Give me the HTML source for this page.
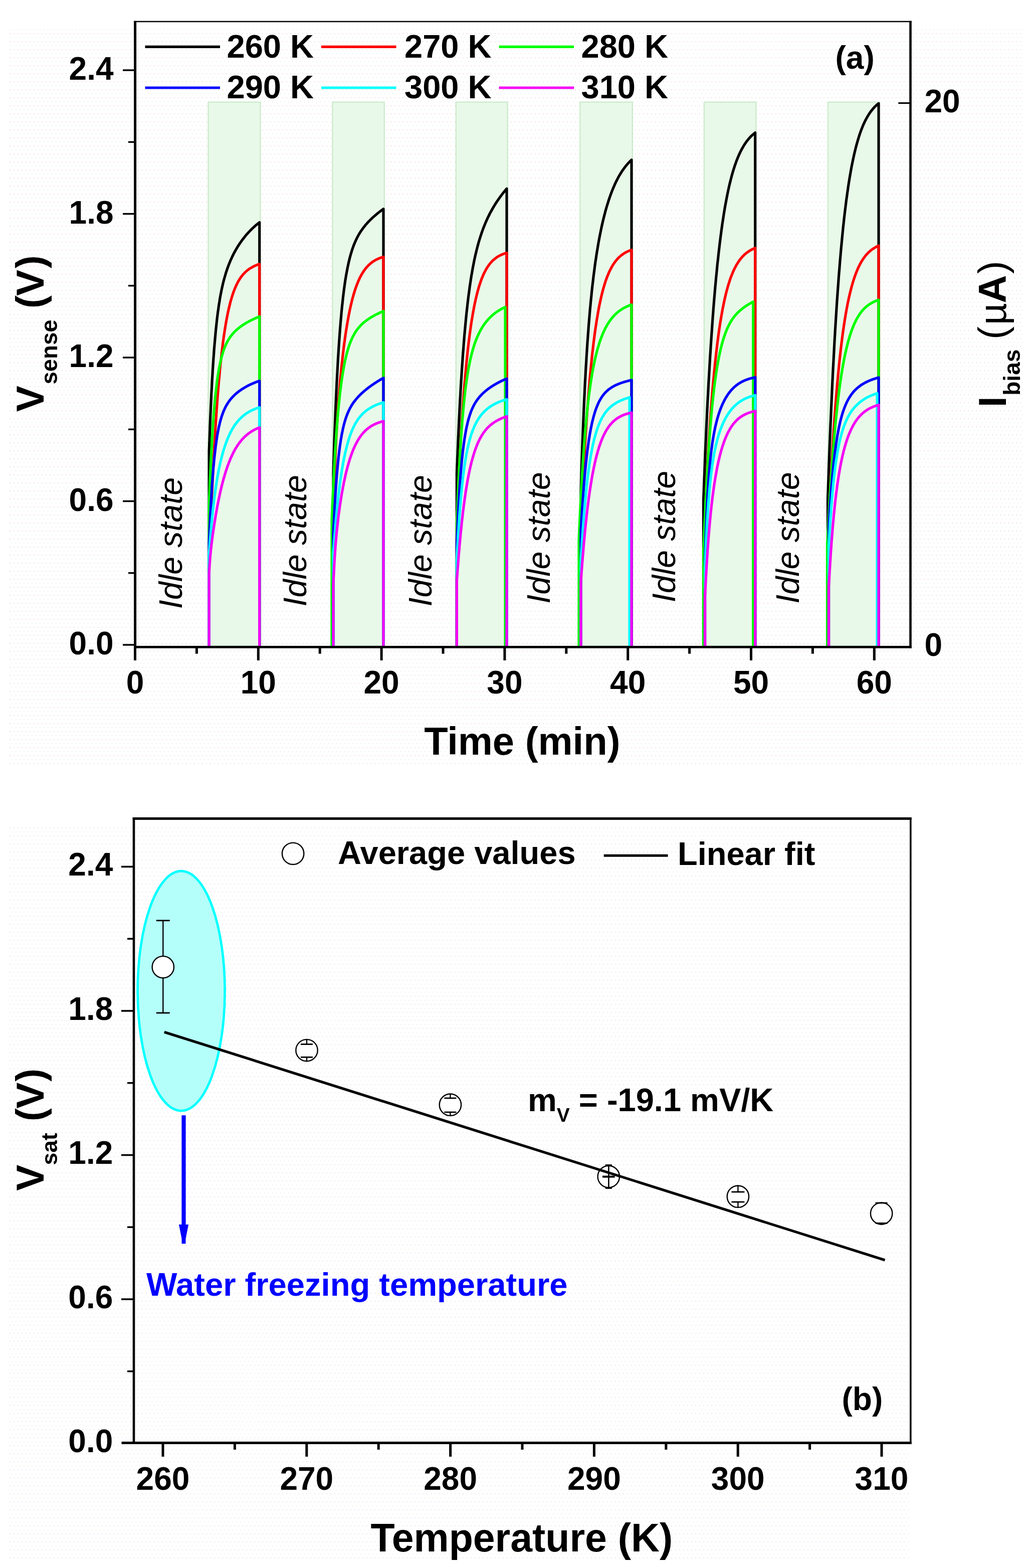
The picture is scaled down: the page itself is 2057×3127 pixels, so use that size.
<!DOCTYPE html><html><head><meta charset="utf-8"><title>Figure</title><style>html,body{margin:0;padding:0;background:#fff;}svg{display:block;}</style></head><body>
<svg width="2057" height="3127" viewBox="0 0 2057 3127" font-family="'Liberation Sans', Arial, sans-serif">
<defs><pattern id="dots" x="0" y="0" width="8" height="16" patternUnits="userSpaceOnUse"><rect x="3" y="2" width="2" height="2" fill="#f1e3e3"/><rect x="7" y="10" width="2" height="2" fill="#dde9e9"/></pattern><pattern id="dots2" x="0" y="0" width="8" height="16" patternUnits="userSpaceOnUse"><rect x="3" y="2" width="2" height="2" fill="#f1e6f1"/><rect x="7" y="10" width="2" height="2" fill="#e6eedc"/></pattern></defs>
<rect width="2057" height="3127" fill="#fff"/>
<rect x="18" y="58" width="2025" height="1469" fill="url(#dots)"/>
<rect x="18" y="1646" width="1795" height="1467" fill="url(#dots2)"/>
<rect x="415.50" y="203.70" width="103.90" height="1084.30" fill="#e9f9e9" stroke="#cfeccf" stroke-width="2.6"/>
<rect x="663.40" y="203.70" width="103.30" height="1084.30" fill="#e9f9e9" stroke="#cfeccf" stroke-width="2.6"/>
<rect x="909.80" y="203.70" width="102.90" height="1084.30" fill="#e9f9e9" stroke="#cfeccf" stroke-width="2.6"/>
<rect x="1157.40" y="203.70" width="104.30" height="1084.30" fill="#e9f9e9" stroke="#cfeccf" stroke-width="2.6"/>
<rect x="1404.90" y="203.70" width="103.50" height="1084.30" fill="#e9f9e9" stroke="#cfeccf" stroke-width="2.6"/>
<rect x="1651.90" y="203.70" width="102.80" height="1084.30" fill="#e9f9e9" stroke="#cfeccf" stroke-width="2.6"/>
<g id="curves" fill="none" stroke-linejoin="round"><path d="M417.1,1290.0 417.1,901.6 417.1,900.3 417.2,898.6 417.2,897.4 417.3,896.0 417.3,894.3 417.4,892.5 417.5,890.4 417.6,888.0 417.6,885.5 417.7,882.7 417.9,879.7 418.0,876.5 418.1,873.1 418.2,869.5 418.4,865.6 418.5,861.6 418.7,857.4 418.8,852.9 419.0,848.4 419.2,843.6 419.4,838.7 419.6,833.6 419.8,828.4 420.1,823.0 420.3,817.5 420.5,811.9 420.8,806.2 421.1,800.4 421.4,794.5 421.6,788.6 421.9,782.6 422.3,776.5 422.6,770.4 422.9,764.2 423.2,758.0 423.6,751.9 424.0,745.7 424.3,739.5 424.7,733.3 425.1,727.1 425.5,721.0 425.9,714.9 426.4,708.9 426.8,702.9 427.2,696.9 427.7,691.0 428.2,685.2 428.7,679.5 429.2,673.8 429.7,668.3 430.2,662.8 430.7,657.4 431.3,652.1 431.8,646.9 432.4,641.8 432.9,636.8 433.5,631.9 434.1,627.1 434.7,622.4 435.4,617.8 436.0,613.3 436.6,608.9 437.3,604.6 438.0,600.5 438.6,596.4 439.3,592.4 440.0,588.5 440.8,584.7 441.5,581.0 442.2,577.4 443.0,573.8 443.8,570.4 444.5,567.0 445.3,563.7 446.1,560.5 446.9,557.4 447.8,554.4 448.6,551.4 449.5,548.5 450.3,545.6 451.2,542.8 452.1,540.1 453.0,537.4 453.9,534.8 454.8,532.2 455.8,529.7 456.7,527.2 457.7,524.8 458.7,522.4 459.6,520.1 460.6,517.8 461.7,515.6 462.7,513.3 463.7,511.2 464.8,509.0 465.8,506.9 466.9,504.8 468.0,502.8 469.1,500.7 470.2,498.7 471.4,496.8 472.5,494.8 473.7,492.9 474.8,491.0 476.0,489.2 477.2,487.3 478.4,485.5 479.7,483.7 480.9,482.0 482.1,480.2 483.4,478.5 484.7,476.8 486.0,475.1 487.3,473.5 488.6,471.8 489.9,470.2 491.2,468.6 492.6,467.1 494.0,465.5 495.4,464.0 496.7,462.5 498.2,461.0 499.6,459.5 501.0,458.1 502.5,456.6 503.9,455.2 505.4,453.8 506.9,452.5 508.4,451.1 509.9,449.8 511.4,448.5 513.0,447.2 514.5,446.0 516.1,444.7 517.7,443.5 517.7,1290.0 M665.0,1290.0 665.0,943.4 665.0,942.0 665.1,941.2 665.1,940.1 665.1,938.8 665.2,937.2 665.2,935.4 665.3,933.4 665.4,931.1 665.5,928.5 665.5,925.7 665.6,922.6 665.7,919.3 665.9,915.8 666.0,912.0 666.1,907.9 666.3,903.6 666.4,899.1 666.6,894.4 666.7,889.4 666.9,884.2 667.1,878.9 667.3,873.3 667.5,867.5 667.7,861.6 667.9,855.5 668.2,849.2 668.4,842.7 668.7,836.1 669.0,829.4 669.2,822.6 669.5,815.6 669.8,808.6 670.1,801.4 670.4,794.2 670.8,786.9 671.1,779.6 671.5,772.2 671.8,764.7 672.2,757.3 672.6,749.8 673.0,742.3 673.4,734.8 673.8,727.4 674.2,719.9 674.6,712.5 675.1,705.2 675.5,697.8 676.0,690.6 676.5,683.4 677.0,676.3 677.5,669.2 678.0,662.3 678.5,655.4 679.1,648.7 679.6,642.0 680.2,635.5 680.8,629.1 681.3,622.8 681.9,616.6 682.5,610.5 683.2,604.6 683.8,598.8 684.4,593.1 685.1,587.6 685.7,582.2 686.4,576.9 687.1,571.8 687.8,566.8 688.5,562.0 689.2,557.2 690.0,552.6 690.7,548.2 691.5,543.9 692.3,539.7 693.1,535.6 693.9,531.6 694.7,527.8 695.5,524.1 696.3,520.5 697.2,517.0 698.0,513.7 698.9,510.4 699.8,507.2 700.7,504.2 701.6,501.2 702.5,498.4 703.4,495.6 704.4,492.9 705.3,490.3 706.3,487.8 707.3,485.4 708.3,483.0 709.3,480.7 710.3,478.5 711.4,476.3 712.4,474.2 713.5,472.2 714.5,470.2 715.6,468.3 716.7,466.4 717.8,464.6 718.9,462.8 720.1,461.1 721.2,459.4 722.4,457.7 723.6,456.1 724.8,454.5 726.0,452.9 727.2,451.4 728.4,449.9 729.6,448.4 730.9,446.9 732.2,445.5 733.5,444.1 734.7,442.7 736.1,441.3 737.4,440.0 738.7,438.6 740.1,437.3 741.4,436.0 742.8,434.7 744.2,433.4 745.6,432.2 747.0,430.9 748.4,429.7 749.9,428.5 751.3,427.2 752.8,426.0 754.3,424.8 755.7,423.7 757.3,422.5 758.8,421.3 760.3,420.1 761.9,419.0 763.4,417.8 765.0,416.7 765.0,1290.0 M911.4,1290.0 911.4,943.5 911.4,942.4 911.5,940.8 911.5,939.8 911.6,938.5 911.6,937.1 911.7,935.4 911.8,933.6 911.9,931.5 911.9,929.2 912.0,926.8 912.1,924.1 912.3,921.2 912.4,918.1 912.5,914.8 912.6,911.3 912.8,907.6 913.0,903.7 913.1,899.7 913.3,895.4 913.5,891.0 913.7,886.3 913.9,881.5 914.1,876.6 914.3,871.4 914.6,866.1 914.8,860.7 915.1,855.1 915.3,849.4 915.6,843.6 915.9,837.6 916.2,831.5 916.5,825.3 916.8,819.0 917.1,812.6 917.5,806.1 917.8,799.6 918.2,793.0 918.6,786.3 918.9,779.5 919.3,772.7 919.7,765.9 920.1,759.0 920.6,752.1 921.0,745.2 921.4,738.3 921.9,731.4 922.4,724.4 922.9,717.5 923.3,710.6 923.8,703.8 924.4,696.9 924.9,690.1 925.4,683.3 926.0,676.6 926.5,669.9 927.1,663.3 927.7,656.8 928.3,650.3 928.9,643.8 929.5,637.5 930.1,631.2 930.7,625.0 931.4,618.9 932.1,612.9 932.7,606.9 933.4,601.1 934.1,595.3 934.8,589.6 935.6,584.1 936.3,578.6 937.0,573.2 937.8,567.9 938.6,562.7 939.3,557.6 940.1,552.6 940.9,547.7 941.8,542.9 942.6,538.2 943.4,533.6 944.3,529.1 945.2,524.6 946.0,520.3 946.9,516.0 947.8,511.9 948.7,507.8 949.7,503.8 950.6,499.9 951.6,496.1 952.5,492.4 953.5,488.7 954.5,485.1 955.5,481.6 956.5,478.2 957.6,474.8 958.6,471.5 959.7,468.3 960.7,465.2 961.8,462.1 962.9,459.0 964.0,456.0 965.1,453.1 966.3,450.2 967.4,447.4 968.6,444.6 969.7,441.9 970.9,439.3 972.1,436.6 973.3,434.0 974.6,431.5 975.8,429.0 977.0,426.5 978.3,424.1 979.6,421.7 980.9,419.4 982.2,417.1 983.5,414.8 984.8,412.5 986.2,410.3 987.5,408.1 988.9,405.9 990.3,403.8 991.6,401.7 993.1,399.6 994.5,397.5 995.9,395.5 997.4,393.4 998.8,391.4 1000.3,389.5 1001.8,387.5 1003.3,385.6 1004.8,383.7 1006.3,381.8 1007.9,379.9 1009.4,378.0 1011.0,376.2 1011.0,1290.0 M1159.0,1290.0 1159.0,978.5 1159.0,977.0 1159.1,976.2 1159.1,975.0 1159.1,973.6 1159.2,972.0 1159.2,970.1 1159.3,968.0 1159.4,965.5 1159.5,962.9 1159.6,959.9 1159.6,956.7 1159.8,953.3 1159.9,949.5 1160.0,945.6 1160.1,941.3 1160.3,936.9 1160.4,932.1 1160.6,927.2 1160.7,922.0 1160.9,916.6 1161.1,911.0 1161.3,905.2 1161.5,899.2 1161.7,893.0 1162.0,886.6 1162.2,880.0 1162.5,873.3 1162.7,866.5 1163.0,859.5 1163.3,852.3 1163.6,845.1 1163.9,837.7 1164.2,830.2 1164.5,822.7 1164.8,815.0 1165.2,807.3 1165.5,799.6 1165.9,791.8 1166.3,783.9 1166.6,776.0 1167.0,768.1 1167.4,760.2 1167.9,752.2 1168.3,744.3 1168.7,736.4 1169.2,728.5 1169.7,720.6 1170.1,712.8 1170.6,705.0 1171.1,697.2 1171.6,689.5 1172.1,681.8 1172.7,674.2 1173.2,666.7 1173.8,659.2 1174.3,651.8 1174.9,644.4 1175.5,637.2 1176.1,630.0 1176.7,622.9 1177.3,615.9 1178.0,609.0 1178.6,602.1 1179.3,595.3 1180.0,588.7 1180.6,582.1 1181.3,575.6 1182.0,569.2 1182.8,562.9 1183.5,556.7 1184.2,550.5 1185.0,544.5 1185.8,538.6 1186.5,532.7 1187.3,526.9 1188.1,521.2 1189.0,515.6 1189.8,510.1 1190.6,504.7 1191.5,499.4 1192.4,494.1 1193.2,489.0 1194.1,483.9 1195.0,478.9 1195.9,474.0 1196.9,469.1 1197.8,464.4 1198.8,459.7 1199.7,455.1 1200.7,450.6 1201.7,446.2 1202.7,441.8 1203.7,437.5 1204.8,433.3 1205.8,429.2 1206.9,425.2 1207.9,421.2 1209.0,417.3 1210.1,413.4 1211.2,409.7 1212.4,406.0 1213.5,402.4 1214.6,398.9 1215.8,395.4 1217.0,392.0 1218.2,388.7 1219.4,385.4 1220.6,382.2 1221.8,379.1 1223.0,376.1 1224.3,373.1 1225.6,370.2 1226.8,367.3 1228.1,364.6 1229.4,361.8 1230.8,359.2 1232.1,356.6 1233.4,354.1 1234.8,351.6 1236.2,349.2 1237.6,346.9 1239.0,344.6 1240.4,342.4 1241.8,340.3 1243.2,338.2 1244.7,336.2 1246.2,334.2 1247.7,332.3 1249.1,330.4 1250.7,328.6 1252.2,326.8 1253.7,325.1 1255.3,323.5 1256.8,321.9 1258.4,320.3 1260.0,318.8 1260.0,1290.0 M1403.5,1290.0 1403.5,996.6 1403.5,995.4 1403.6,993.7 1403.6,992.6 1403.7,991.2 1403.8,989.6 1403.8,987.8 1403.9,985.8 1404.0,983.5 1404.1,981.0 1404.2,978.3 1404.3,975.4 1404.4,972.2 1404.5,968.8 1404.6,965.1 1404.8,961.3 1404.9,957.2 1405.1,952.9 1405.3,948.4 1405.5,943.7 1405.7,938.7 1405.9,933.5 1406.1,928.2 1406.3,922.6 1406.5,916.9 1406.8,910.9 1407.0,904.8 1407.3,898.4 1407.6,892.0 1407.9,885.3 1408.2,878.5 1408.5,871.5 1408.8,864.4 1409.1,857.1 1409.5,849.7 1409.8,842.1 1410.2,834.5 1410.5,826.7 1410.9,818.8 1411.3,810.8 1411.7,802.7 1412.1,794.5 1412.6,786.2 1413.0,777.9 1413.4,769.5 1413.9,761.0 1414.4,752.5 1414.9,743.9 1415.4,735.3 1415.9,726.6 1416.4,718.0 1416.9,709.3 1417.5,700.5 1418.0,691.8 1418.6,683.1 1419.2,674.4 1419.8,665.7 1420.4,657.0 1421.0,648.3 1421.6,639.7 1422.2,631.0 1422.9,622.5 1423.5,613.9 1424.2,605.5 1424.9,597.0 1425.6,588.7 1426.3,580.4 1427.0,572.1 1427.8,564.0 1428.5,555.9 1429.3,547.9 1430.1,539.9 1430.8,532.1 1431.6,524.3 1432.5,516.7 1433.3,509.1 1434.1,501.7 1435.0,494.3 1435.8,487.1 1436.7,480.0 1437.6,472.9 1438.5,466.0 1439.4,459.2 1440.3,452.6 1441.2,446.0 1442.2,439.6 1443.2,433.2 1444.1,427.0 1445.1,421.0 1446.1,415.0 1447.1,409.2 1448.2,403.5 1449.2,398.0 1450.3,392.5 1451.3,387.2 1452.4,382.0 1453.5,377.0 1454.6,372.0 1455.7,367.2 1456.9,362.5 1458.0,358.0 1459.2,353.5 1460.3,349.2 1461.5,345.0 1462.7,340.9 1463.9,337.0 1465.2,333.1 1466.4,329.4 1467.7,325.8 1468.9,322.3 1470.2,318.9 1471.5,315.7 1472.8,312.5 1474.1,309.4 1475.5,306.5 1476.8,303.6 1478.2,300.8 1479.6,298.2 1481.0,295.6 1482.4,293.2 1483.8,290.8 1485.2,288.5 1486.7,286.3 1488.1,284.2 1489.6,282.1 1491.1,280.2 1492.6,278.3 1494.1,276.5 1495.6,274.8 1497.2,273.1 1498.7,271.5 1500.3,270.0 1501.9,268.6 1503.5,267.2 1505.1,265.9 1506.7,264.6 1506.7,1290.0 M1651.5,1290.0 1651.5,993.7 1651.5,992.5 1651.6,990.7 1651.6,989.5 1651.7,988.1 1651.7,986.5 1651.8,984.6 1651.9,982.4 1652.0,980.1 1652.1,977.5 1652.2,974.6 1652.3,971.6 1652.4,968.2 1652.5,964.7 1652.6,960.8 1652.8,956.8 1652.9,952.5 1653.1,948.0 1653.3,943.2 1653.4,938.2 1653.6,933.0 1653.8,927.6 1654.0,921.9 1654.3,916.0 1654.5,909.9 1654.7,903.6 1655.0,897.1 1655.2,890.4 1655.5,883.5 1655.8,876.4 1656.1,869.1 1656.4,861.7 1656.7,854.1 1657.0,846.3 1657.4,838.4 1657.7,830.3 1658.1,822.1 1658.4,813.7 1658.8,805.2 1659.2,796.6 1659.6,787.9 1660.0,779.1 1660.4,770.2 1660.8,761.1 1661.3,752.0 1661.7,742.9 1662.2,733.6 1662.7,724.3 1663.2,715.0 1663.7,705.6 1664.2,696.1 1664.7,686.6 1665.2,677.1 1665.8,667.6 1666.3,658.1 1666.9,648.6 1667.5,639.1 1668.1,629.6 1668.7,620.1 1669.3,610.6 1669.9,601.2 1670.6,591.8 1671.2,582.5 1671.9,573.2 1672.6,564.0 1673.2,554.8 1673.9,545.7 1674.7,536.7 1675.4,527.7 1676.1,518.9 1676.9,510.1 1677.6,501.4 1678.4,492.8 1679.2,484.4 1680.0,476.0 1680.8,467.7 1681.6,459.6 1682.4,451.5 1683.3,443.6 1684.1,435.8 1685.0,428.2 1685.9,420.6 1686.8,413.2 1687.7,406.0 1688.6,398.8 1689.6,391.9 1690.5,385.0 1691.5,378.3 1692.4,371.7 1693.4,365.3 1694.4,359.0 1695.4,352.8 1696.5,346.8 1697.5,340.9 1698.5,335.2 1699.6,329.6 1700.7,324.2 1701.8,318.9 1702.9,313.7 1704.0,308.7 1705.1,303.9 1706.3,299.1 1707.4,294.5 1708.6,290.0 1709.8,285.7 1711.0,281.5 1712.2,277.4 1713.4,273.5 1714.6,269.7 1715.9,266.0 1717.1,262.4 1718.4,259.0 1719.7,255.6 1721.0,252.4 1722.3,249.3 1723.6,246.3 1725.0,243.5 1726.3,240.7 1727.7,238.0 1729.1,235.5 1730.5,233.0 1731.9,230.6 1733.3,228.4 1734.7,226.2 1736.2,224.1 1737.6,222.1 1739.1,220.1 1740.6,218.3 1742.1,216.5 1743.6,214.8 1745.1,213.2 1746.7,211.7 1748.2,210.2 1749.8,208.8 1751.4,207.5 1753.0,206.2 1753.0,1290.0" stroke="#000000" stroke-width="5.2"/>
<path d="M417.1,1290.0 417.1,1137.4 417.1,1136.2 417.2,1134.4 417.2,1133.2 417.3,1131.8 417.3,1130.1 417.4,1128.2 417.5,1126.1 417.6,1123.8 417.6,1121.2 417.7,1118.4 417.9,1115.3 418.0,1112.0 418.1,1108.4 418.2,1104.7 418.4,1100.7 418.5,1096.4 418.7,1092.0 418.8,1087.3 419.0,1082.4 419.2,1077.2 419.4,1071.9 419.6,1066.4 419.8,1060.6 420.1,1054.7 420.3,1048.5 420.5,1042.2 420.8,1035.7 421.1,1029.1 421.4,1022.3 421.6,1015.3 421.9,1008.2 422.3,1000.9 422.6,993.5 422.9,986.0 423.2,978.4 423.6,970.6 424.0,962.8 424.3,954.9 424.7,946.9 425.1,938.8 425.5,930.7 425.9,922.6 426.4,914.3 426.8,906.1 427.2,897.8 427.7,889.5 428.2,881.2 428.7,872.9 429.2,864.6 429.7,856.3 430.2,848.1 430.7,839.9 431.3,831.7 431.8,823.6 432.4,815.5 432.9,807.5 433.5,799.5 434.1,791.6 434.7,783.8 435.4,776.1 436.0,768.5 436.6,761.0 437.3,753.6 438.0,746.3 438.6,739.1 439.3,732.0 440.0,725.1 440.8,718.3 441.5,711.6 442.2,705.0 443.0,698.5 443.8,692.2 444.5,686.1 445.3,680.0 446.1,674.1 446.9,668.4 447.8,662.8 448.6,657.3 449.5,652.0 450.3,646.8 451.2,641.8 452.1,636.9 453.0,632.1 453.9,627.5 454.8,623.0 455.8,618.7 456.7,614.5 457.7,610.5 458.7,606.5 459.6,602.7 460.6,599.1 461.7,595.5 462.7,592.1 463.7,588.9 464.8,585.7 465.8,582.6 466.9,579.7 468.0,576.9 469.1,574.2 470.2,571.6 471.4,569.1 472.5,566.7 473.7,564.4 474.8,562.2 476.0,560.1 477.2,558.1 478.4,556.2 479.7,554.3 480.9,552.6 482.1,550.9 483.4,549.3 484.7,547.7 486.0,546.3 487.3,544.9 488.6,543.5 489.9,542.3 491.2,541.1 492.6,539.9 494.0,538.8 495.4,537.7 496.7,536.7 498.2,535.8 499.6,534.9 501.0,534.0 502.5,533.2 503.9,532.4 505.4,531.6 506.9,530.9 508.4,530.2 509.9,529.5 511.4,528.9 513.0,528.3 514.5,527.7 516.1,527.1 517.7,526.6 517.7,1290.0 M665.0,1290.0 665.0,1051.8 665.0,1050.7 665.0,1049.8 665.1,1048.6 665.1,1047.0 665.1,1045.1 665.2,1042.9 665.2,1040.3 665.3,1037.5 665.4,1034.2 665.5,1030.7 665.5,1026.8 665.6,1022.7 665.7,1018.3 665.9,1013.6 666.0,1008.6 666.1,1003.4 666.3,998.0 666.4,992.4 666.6,986.6 666.7,980.6 666.9,974.5 667.1,968.2 667.3,961.8 667.5,955.4 667.7,948.8 667.9,942.2 668.2,935.6 668.4,928.8 668.7,922.1 669.0,915.4 669.2,908.6 669.5,901.9 669.8,895.1 670.1,888.4 670.4,881.7 670.8,875.1 671.1,868.4 671.5,861.8 671.8,855.3 672.2,848.7 672.6,842.3 673.0,835.8 673.4,829.4 673.8,823.1 674.2,816.7 674.6,810.5 675.1,804.2 675.5,798.0 676.0,791.9 676.5,785.7 677.0,779.7 677.5,773.6 678.0,767.6 678.5,761.7 679.1,755.7 679.6,749.9 680.2,744.0 680.8,738.2 681.3,732.5 681.9,726.8 682.5,721.1 683.2,715.5 683.8,710.0 684.4,704.5 685.1,699.1 685.7,693.7 686.4,688.4 687.1,683.2 687.8,678.0 688.5,672.9 689.2,667.8 690.0,662.9 690.7,658.0 691.5,653.2 692.3,648.5 693.1,643.8 693.9,639.3 694.7,634.8 695.5,630.4 696.3,626.1 697.2,621.9 698.0,617.8 698.9,613.7 699.8,609.8 700.7,605.9 701.6,602.2 702.5,598.5 703.4,594.9 704.4,591.5 705.3,588.1 706.3,584.8 707.3,581.6 708.3,578.4 709.3,575.4 710.3,572.5 711.4,569.6 712.4,566.9 713.5,564.2 714.5,561.6 715.6,559.1 716.7,556.7 717.8,554.4 718.9,552.1 720.1,550.0 721.2,547.9 722.4,545.8 723.6,543.9 724.8,542.0 726.0,540.2 727.2,538.5 728.4,536.9 729.6,535.3 730.9,533.7 732.2,532.3 733.5,530.9 734.7,529.5 736.1,528.3 737.4,527.0 738.7,525.9 740.1,524.8 741.4,523.7 742.8,522.7 744.2,521.7 745.6,520.8 747.0,519.9 748.4,519.1 749.9,518.3 751.3,517.5 752.8,516.8 754.3,516.1 755.7,515.5 757.3,514.9 758.8,514.3 760.3,513.8 761.9,513.2 763.4,512.8 765.0,512.3 765.0,1290.0 M911.4,1290.0 911.4,1044.9 911.4,1043.8 911.5,1042.3 911.5,1041.3 911.6,1040.0 911.6,1038.6 911.7,1037.0 911.8,1035.2 911.9,1033.2 911.9,1030.9 912.0,1028.5 912.1,1025.9 912.3,1023.0 912.4,1020.0 912.5,1016.8 912.6,1013.3 912.8,1009.7 913.0,1005.9 913.1,1001.9 913.3,997.7 913.5,993.3 913.7,988.8 913.9,984.0 914.1,979.1 914.3,974.1 914.6,968.9 914.8,963.5 915.1,958.0 915.3,952.3 915.6,946.5 915.9,940.6 916.2,934.5 916.5,928.4 916.8,922.1 917.1,915.7 917.5,909.3 917.8,902.7 918.2,896.0 918.6,889.3 918.9,882.5 919.3,875.7 919.7,868.8 920.1,861.8 920.6,854.9 921.0,847.8 921.4,840.8 921.9,833.7 922.4,826.6 922.9,819.6 923.3,812.5 923.8,805.4 924.4,798.3 924.9,791.3 925.4,784.2 926.0,777.2 926.5,770.3 927.1,763.4 927.7,756.5 928.3,749.7 928.9,742.9 929.5,736.2 930.1,729.6 930.7,723.0 931.4,716.5 932.1,710.1 932.7,703.8 933.4,697.5 934.1,691.4 934.8,685.3 935.6,679.3 936.3,673.5 937.0,667.7 937.8,662.0 938.6,656.5 939.3,651.0 940.1,645.7 940.9,640.4 941.8,635.3 942.6,630.3 943.4,625.4 944.3,620.6 945.2,616.0 946.0,611.4 946.9,607.0 947.8,602.7 948.7,598.5 949.7,594.4 950.6,590.4 951.6,586.5 952.5,582.8 953.5,579.2 954.5,575.7 955.5,572.3 956.5,569.0 957.6,565.8 958.6,562.7 959.7,559.7 960.7,556.8 961.8,554.1 962.9,551.4 964.0,548.8 965.1,546.3 966.3,544.0 967.4,541.7 968.6,539.5 969.7,537.4 970.9,535.3 972.1,533.4 973.3,531.5 974.6,529.8 975.8,528.1 977.0,526.4 978.3,524.9 979.6,523.4 980.9,522.0 982.2,520.6 983.5,519.3 984.8,518.1 986.2,517.0 987.5,515.8 988.9,514.8 990.3,513.8 991.6,512.8 993.1,511.9 994.5,511.1 995.9,510.3 997.4,509.5 998.8,508.8 1000.3,508.1 1001.8,507.5 1003.3,506.9 1004.8,506.3 1006.3,505.7 1007.9,505.2 1009.4,504.8 1011.0,504.3 1011.0,1290.0 M1159.0,1290.0 1159.0,1051.1 1159.0,1050.1 1159.1,1048.7 1159.1,1047.8 1159.2,1046.6 1159.2,1045.3 1159.3,1043.8 1159.4,1042.2 1159.5,1040.3 1159.6,1038.3 1159.6,1036.0 1159.8,1033.6 1159.9,1030.9 1160.0,1028.1 1160.1,1025.1 1160.3,1021.9 1160.4,1018.6 1160.6,1015.0 1160.7,1011.2 1160.9,1007.3 1161.1,1003.2 1161.3,998.9 1161.5,994.5 1161.7,989.8 1162.0,985.0 1162.2,980.1 1162.5,975.0 1162.7,969.7 1163.0,964.3 1163.3,958.8 1163.6,953.1 1163.9,947.3 1164.2,941.3 1164.5,935.3 1164.8,929.1 1165.2,922.8 1165.5,916.4 1165.9,909.9 1166.3,903.3 1166.6,896.7 1167.0,890.0 1167.4,883.2 1167.9,876.3 1168.3,869.4 1168.7,862.4 1169.2,855.4 1169.7,848.3 1170.1,841.2 1170.6,834.1 1171.1,827.0 1171.6,819.9 1172.1,812.7 1172.7,805.6 1173.2,798.5 1173.8,791.4 1174.3,784.3 1174.9,777.2 1175.5,770.2 1176.1,763.2 1176.7,756.2 1177.3,749.3 1178.0,742.5 1178.6,735.7 1179.3,729.0 1180.0,722.3 1180.6,715.7 1181.3,709.2 1182.0,702.8 1182.8,696.4 1183.5,690.2 1184.2,684.0 1185.0,677.9 1185.8,672.0 1186.5,666.1 1187.3,660.3 1188.1,654.7 1189.0,649.1 1189.8,643.6 1190.6,638.3 1191.5,633.1 1192.4,627.9 1193.2,622.9 1194.1,618.1 1195.0,613.3 1195.9,608.6 1196.9,604.1 1197.8,599.7 1198.8,595.3 1199.7,591.2 1200.7,587.1 1201.7,583.1 1202.7,579.3 1203.7,575.5 1204.8,571.9 1205.8,568.4 1206.9,565.0 1207.9,561.7 1209.0,558.5 1210.1,555.5 1211.2,552.5 1212.4,549.6 1213.5,546.9 1214.6,544.2 1215.8,541.6 1217.0,539.2 1218.2,536.8 1219.4,534.5 1220.6,532.3 1221.8,530.2 1223.0,528.2 1224.3,526.2 1225.6,524.4 1226.8,522.6 1228.1,520.9 1229.4,519.3 1230.8,517.7 1232.1,516.2 1233.4,514.8 1234.8,513.4 1236.2,512.1 1237.6,510.9 1239.0,509.7 1240.4,508.6 1241.8,507.6 1243.2,506.6 1244.7,505.6 1246.2,504.7 1247.7,503.8 1249.1,503.0 1250.7,502.2 1252.2,501.5 1253.7,500.8 1255.3,500.2 1256.8,499.5 1258.4,499.0 1260.0,498.4 1260.0,1290.0 M1406.5,1290.0 1406.5,1050.1 1406.5,1049.1 1406.5,1048.3 1406.6,1047.2 1406.6,1045.8 1406.6,1044.1 1406.7,1042.1 1406.7,1039.9 1406.8,1037.4 1406.9,1034.6 1407.0,1031.7 1407.0,1028.5 1407.1,1025.1 1407.2,1021.5 1407.4,1017.7 1407.5,1013.8 1407.6,1009.8 1407.8,1005.6 1407.9,1001.4 1408.1,997.0 1408.2,992.6 1408.4,988.1 1408.6,983.5 1408.8,978.8 1409.0,974.0 1409.2,969.2 1409.5,964.3 1409.7,959.3 1409.9,954.3 1410.2,949.1 1410.5,943.9 1410.7,938.6 1411.0,933.3 1411.3,927.8 1411.6,922.2 1411.9,916.6 1412.3,910.9 1412.6,905.1 1413.0,899.2 1413.3,893.2 1413.7,887.2 1414.1,881.1 1414.5,874.9 1414.9,868.6 1415.3,862.3 1415.7,855.9 1416.2,849.5 1416.6,843.1 1417.1,836.6 1417.5,830.0 1418.0,823.4 1418.5,816.9 1419.0,810.2 1419.5,803.6 1420.1,797.0 1420.6,790.4 1421.1,783.7 1421.7,777.1 1422.3,770.5 1422.9,763.9 1423.5,757.4 1424.1,750.9 1424.7,744.4 1425.3,737.9 1426.0,731.5 1426.6,725.1 1427.3,718.8 1428.0,712.6 1428.7,706.4 1429.4,700.3 1430.1,694.2 1430.8,688.3 1431.5,682.4 1432.3,676.5 1433.0,670.8 1433.8,665.1 1434.6,659.6 1435.4,654.1 1436.2,648.7 1437.0,643.4 1437.9,638.2 1438.7,633.1 1439.6,628.1 1440.5,623.2 1441.3,618.4 1442.2,613.7 1443.2,609.1 1444.1,604.6 1445.0,600.2 1446.0,595.9 1446.9,591.8 1447.9,587.7 1448.9,583.7 1449.9,579.9 1450.9,576.1 1451.9,572.5 1452.9,568.9 1454.0,565.5 1455.1,562.1 1456.1,558.9 1457.2,555.7 1458.3,552.7 1459.4,549.7 1460.6,546.9 1461.7,544.1 1462.8,541.4 1464.0,538.9 1465.2,536.4 1466.4,534.0 1467.6,531.7 1468.8,529.5 1470.0,527.3 1471.3,525.3 1472.5,523.3 1473.8,521.4 1475.1,519.5 1476.4,517.8 1477.7,516.1 1479.0,514.5 1480.4,513.0 1481.7,511.5 1483.1,510.1 1484.4,508.7 1485.8,507.4 1487.2,506.2 1488.6,505.0 1490.1,503.9 1491.5,502.8 1493.0,501.8 1494.4,500.8 1495.9,499.9 1497.4,499.0 1498.9,498.2 1500.5,497.4 1502.0,496.6 1503.6,495.9 1505.1,495.2 1506.7,494.6 1506.7,1290.0 M1653.5,1290.0 1653.5,1039.3 1653.5,1038.4 1653.6,1037.1 1653.6,1036.2 1653.7,1035.2 1653.7,1034.0 1653.8,1032.6 1653.9,1031.1 1654.0,1029.3 1654.0,1027.4 1654.1,1025.4 1654.2,1023.1 1654.4,1020.7 1654.5,1018.1 1654.6,1015.3 1654.7,1012.4 1654.9,1009.3 1655.1,1006.0 1655.2,1002.5 1655.4,998.8 1655.6,995.0 1655.8,991.1 1656.0,986.9 1656.2,982.6 1656.4,978.2 1656.7,973.6 1656.9,968.8 1657.2,963.9 1657.4,958.9 1657.7,953.7 1658.0,948.4 1658.3,942.9 1658.6,937.4 1658.9,931.7 1659.2,925.9 1659.6,920.0 1659.9,914.0 1660.3,907.9 1660.7,901.7 1661.0,895.4 1661.4,889.0 1661.8,882.6 1662.2,876.1 1662.7,869.5 1663.1,862.9 1663.5,856.2 1664.0,849.5 1664.5,842.7 1664.9,835.9 1665.4,829.1 1665.9,822.3 1666.4,815.4 1667.0,808.5 1667.5,801.7 1668.0,794.8 1668.6,787.9 1669.2,781.1 1669.8,774.3 1670.3,767.4 1670.9,760.7 1671.6,753.9 1672.2,747.2 1672.8,740.5 1673.5,733.9 1674.1,727.4 1674.8,720.9 1675.5,714.4 1676.2,708.0 1676.9,701.7 1677.6,695.5 1678.4,689.3 1679.1,683.2 1679.9,677.2 1680.6,671.3 1681.4,665.4 1682.2,659.7 1683.0,654.1 1683.8,648.5 1684.7,643.0 1685.5,637.7 1686.4,632.4 1687.2,627.3 1688.1,622.2 1689.0,617.3 1689.9,612.4 1690.8,607.7 1691.7,603.1 1692.7,598.6 1693.6,594.1 1694.6,589.8 1695.6,585.6 1696.6,581.6 1697.6,577.6 1698.6,573.7 1699.6,569.9 1700.7,566.3 1701.7,562.7 1702.8,559.3 1703.9,555.9 1705.0,552.7 1706.1,549.5 1707.2,546.5 1708.3,543.5 1709.5,540.7 1710.6,537.9 1711.8,535.3 1713.0,532.7 1714.2,530.2 1715.4,527.8 1716.6,525.5 1717.8,523.3 1719.1,521.2 1720.3,519.1 1721.6,517.2 1722.9,515.3 1724.2,513.5 1725.5,511.7 1726.8,510.0 1728.2,508.4 1729.5,506.9 1730.9,505.4 1732.3,504.0 1733.7,502.7 1735.1,501.4 1736.5,500.2 1737.9,499.0 1739.4,497.9 1740.8,496.8 1742.3,495.8 1743.8,494.9 1745.3,493.9 1746.8,493.1 1748.3,492.2 1749.9,491.5 1751.4,490.7 1753.0,490.0 1753.0,1290.0" stroke="#ff0000" stroke-width="5.2"/>
<path d="M417.1,1290.0 417.1,1009.7 417.1,1008.5 417.2,1006.8 417.2,1005.7 417.3,1004.3 417.3,1002.7 417.4,1001.0 417.5,999.0 417.6,996.7 417.6,994.3 417.7,991.7 417.9,988.8 418.0,985.8 418.1,982.5 418.2,979.0 418.4,975.4 418.5,971.5 418.7,967.5 418.8,963.3 419.0,958.9 419.2,954.4 419.4,949.7 419.6,944.8 419.8,939.9 420.1,934.8 420.3,929.6 420.5,924.2 420.8,918.8 421.1,913.3 421.4,907.7 421.6,902.1 421.9,896.4 422.3,890.6 422.6,884.9 422.9,879.1 423.2,873.2 423.6,867.4 424.0,861.6 424.3,855.8 424.7,850.0 425.1,844.2 425.5,838.5 425.9,832.8 426.4,827.2 426.8,821.6 427.2,816.1 427.7,810.7 428.2,805.4 428.7,800.1 429.2,794.9 429.7,789.9 430.2,784.9 430.7,780.0 431.3,775.3 431.8,770.6 432.4,766.1 432.9,761.6 433.5,757.3 434.1,753.1 434.7,749.0 435.4,745.1 436.0,741.2 436.6,737.5 437.3,733.9 438.0,730.4 438.6,727.0 439.3,723.7 440.0,720.5 440.8,717.4 441.5,714.5 442.2,711.6 443.0,708.9 443.8,706.2 444.5,703.6 445.3,701.2 446.1,698.8 446.9,696.5 447.8,694.3 448.6,692.1 449.5,690.1 450.3,688.1 451.2,686.2 452.1,684.3 453.0,682.5 453.9,680.8 454.8,679.2 455.8,677.5 456.7,676.0 457.7,674.5 458.7,673.0 459.6,671.6 460.6,670.3 461.7,668.9 462.7,667.6 463.7,666.4 464.8,665.2 465.8,664.0 466.9,662.8 468.0,661.7 469.1,660.6 470.2,659.5 471.4,658.5 472.5,657.4 473.7,656.4 474.8,655.4 476.0,654.5 477.2,653.5 478.4,652.6 479.7,651.7 480.9,650.8 482.1,649.9 483.4,649.0 484.7,648.1 486.0,647.3 487.3,646.5 488.6,645.6 489.9,644.8 491.2,644.0 492.6,643.2 494.0,642.5 495.4,641.7 496.7,640.9 498.2,640.2 499.6,639.5 501.0,638.7 502.5,638.0 503.9,637.3 505.4,636.6 506.9,635.9 508.4,635.2 509.9,634.5 511.4,633.9 513.0,633.2 514.5,632.6 516.1,631.9 517.7,631.3 517.7,1290.0 M662.0,1290.0 662.0,1036.3 662.0,1035.2 662.1,1033.7 662.1,1032.7 662.2,1031.4 662.2,1030.0 662.3,1028.4 662.4,1026.6 662.5,1024.6 662.6,1022.4 662.7,1020.0 662.8,1017.4 662.9,1014.6 663.0,1011.6 663.1,1008.4 663.3,1005.1 663.4,1001.5 663.6,997.8 663.8,993.9 664.0,989.8 664.2,985.6 664.4,981.2 664.6,976.6 664.8,971.9 665.0,967.1 665.3,962.1 665.5,957.0 665.8,951.8 666.1,946.5 666.4,941.1 666.7,935.6 667.0,929.9 667.3,924.3 667.6,918.5 667.9,912.7 668.3,906.8 668.6,900.9 669.0,895.0 669.4,889.0 669.8,883.0 670.2,877.0 670.6,871.0 671.0,865.0 671.5,859.1 671.9,853.1 672.4,847.2 672.9,841.3 673.3,835.4 673.8,829.6 674.3,823.8 674.9,818.1 675.4,812.5 675.9,806.9 676.5,801.5 677.1,796.1 677.6,790.7 678.2,785.5 678.8,780.4 679.4,775.3 680.1,770.4 680.7,765.5 681.3,760.8 682.0,756.1 682.7,751.6 683.4,747.2 684.1,742.9 684.8,738.7 685.5,734.6 686.2,730.6 687.0,726.7 687.7,722.9 688.5,719.3 689.3,715.7 690.1,712.3 690.9,708.9 691.7,705.7 692.5,702.6 693.4,699.6 694.3,696.6 695.1,693.8 696.0,691.1 696.9,688.4 697.8,685.9 698.7,683.4 699.7,681.1 700.6,678.8 701.6,676.5 702.6,674.4 703.5,672.4 704.5,670.4 705.6,668.5 706.6,666.6 707.6,664.8 708.7,663.1 709.7,661.4 710.8,659.8 711.9,658.3 713.0,656.8 714.1,655.3 715.3,653.9 716.4,652.6 717.6,651.2 718.7,650.0 719.9,648.7 721.1,647.5 722.3,646.4 723.6,645.2 724.8,644.1 726.0,643.0 727.3,642.0 728.6,641.0 729.9,640.0 731.2,639.0 732.5,638.0 733.8,637.1 735.2,636.2 736.5,635.3 737.9,634.4 739.3,633.5 740.7,632.7 742.1,631.8 743.5,631.0 745.0,630.2 746.4,629.4 747.9,628.6 749.4,627.8 750.9,627.0 752.4,626.3 753.9,625.5 755.5,624.8 757.0,624.0 758.6,623.3 760.2,622.5 761.8,621.8 763.4,621.1 765.0,620.4 765.0,1290.0 M911.4,1290.0 911.4,1047.1 911.4,1046.0 911.5,1044.4 911.5,1043.3 911.6,1042.0 911.6,1040.5 911.7,1038.9 911.8,1037.0 911.8,1034.9 911.9,1032.6 912.0,1030.1 912.1,1027.4 912.2,1024.5 912.3,1021.4 912.5,1018.1 912.6,1014.6 912.8,1010.9 912.9,1007.0 913.1,1003.0 913.2,998.8 913.4,994.4 913.6,989.9 913.8,985.2 914.0,980.4 914.2,975.4 914.5,970.3 914.7,965.1 915.0,959.8 915.2,954.3 915.5,948.8 915.8,943.2 916.0,937.5 916.3,931.8 916.7,925.9 917.0,920.1 917.3,914.2 917.6,908.2 918.0,902.2 918.3,896.2 918.7,890.2 919.1,884.2 919.5,878.2 919.9,872.3 920.3,866.3 920.7,860.4 921.1,854.5 921.6,848.6 922.0,842.8 922.5,837.0 923.0,831.3 923.5,825.7 924.0,820.1 924.5,814.6 925.0,809.2 925.5,803.8 926.1,798.6 926.6,793.4 927.2,788.3 927.8,783.3 928.3,778.4 928.9,773.6 929.5,768.9 930.2,764.3 930.8,759.8 931.4,755.4 932.1,751.0 932.8,746.8 933.4,742.7 934.1,738.7 934.8,734.7 935.5,730.9 936.3,727.2 937.0,723.5 937.7,720.0 938.5,716.5 939.3,713.1 940.1,709.8 940.8,706.6 941.7,703.5 942.5,700.5 943.3,697.5 944.1,694.7 945.0,691.9 945.9,689.1 946.7,686.5 947.6,683.9 948.5,681.4 949.4,679.0 950.4,676.6 951.3,674.3 952.3,672.0 953.2,669.8 954.2,667.7 955.2,665.6 956.2,663.5 957.2,661.6 958.2,659.6 959.2,657.7 960.3,655.9 961.4,654.1 962.4,652.4 963.5,650.7 964.6,649.0 965.7,647.4 966.8,645.8 968.0,644.3 969.1,642.8 970.3,641.3 971.5,639.9 972.7,638.5 973.9,637.2 975.1,635.8 976.3,634.5 977.5,633.3 978.8,632.1 980.0,630.9 981.3,629.7 982.6,628.5 983.9,627.4 985.2,626.3 986.5,625.3 987.9,624.3 989.2,623.3 990.6,622.3 992.0,621.3 993.4,620.4 994.8,619.5 996.2,618.6 997.6,617.8 999.1,616.9 1000.5,616.1 1002.0,615.3 1003.5,614.6 1005.0,613.8 1006.5,613.1 1008.0,612.4 1008.0,1290.0 M1155.0,1290.0 1155.0,1077.3 1155.0,1076.3 1155.1,1074.7 1155.1,1073.7 1155.2,1072.5 1155.3,1071.1 1155.3,1069.5 1155.4,1067.7 1155.5,1065.7 1155.6,1063.5 1155.7,1061.1 1155.8,1058.5 1155.9,1055.7 1156.0,1052.7 1156.2,1049.5 1156.3,1046.1 1156.5,1042.6 1156.6,1038.8 1156.8,1034.9 1157.0,1030.8 1157.2,1026.5 1157.4,1022.1 1157.6,1017.5 1157.9,1012.8 1158.1,1007.9 1158.3,1002.9 1158.6,997.8 1158.9,992.5 1159.1,987.1 1159.4,981.6 1159.7,976.0 1160.1,970.3 1160.4,964.6 1160.7,958.7 1161.1,952.8 1161.4,946.8 1161.8,940.7 1162.2,934.6 1162.5,928.5 1162.9,922.3 1163.4,916.1 1163.8,909.9 1164.2,903.6 1164.7,897.4 1165.1,891.2 1165.6,884.9 1166.1,878.7 1166.6,872.5 1167.1,866.4 1167.6,860.3 1168.1,854.2 1168.7,848.1 1169.2,842.1 1169.8,836.2 1170.3,830.3 1170.9,824.4 1171.5,818.7 1172.2,813.0 1172.8,807.4 1173.4,801.8 1174.1,796.4 1174.7,791.0 1175.4,785.7 1176.1,780.4 1176.8,775.3 1177.5,770.3 1178.2,765.3 1179.0,760.5 1179.7,755.7 1180.5,751.0 1181.2,746.4 1182.0,741.9 1182.8,737.5 1183.6,733.2 1184.5,729.0 1185.3,724.9 1186.1,720.9 1187.0,716.9 1187.9,713.1 1188.8,709.3 1189.7,705.7 1190.6,702.1 1191.5,698.6 1192.5,695.2 1193.4,691.9 1194.4,688.7 1195.4,685.5 1196.3,682.5 1197.4,679.5 1198.4,676.6 1199.4,673.8 1200.5,671.1 1201.5,668.4 1202.6,665.8 1203.7,663.3 1204.8,660.9 1205.9,658.5 1207.0,656.2 1208.1,653.9 1209.3,651.8 1210.5,649.7 1211.6,647.6 1212.8,645.7 1214.0,643.8 1215.3,641.9 1216.5,640.1 1217.8,638.4 1219.0,636.7 1220.3,635.1 1221.6,633.5 1222.9,632.0 1224.2,630.5 1225.5,629.1 1226.9,627.7 1228.2,626.4 1229.6,625.1 1231.0,623.9 1232.4,622.7 1233.8,621.5 1235.2,620.4 1236.7,619.4 1238.1,618.4 1239.6,617.4 1241.1,616.4 1242.6,615.5 1244.1,614.6 1245.6,613.8 1247.2,613.0 1248.7,612.2 1250.3,611.5 1251.9,610.7 1253.5,610.1 1255.1,609.4 1256.7,608.8 1258.3,608.2 1260.0,607.6 1260.0,1290.0 M1403.5,1290.0 1403.5,1100.9 1403.5,1099.9 1403.6,1098.4 1403.6,1097.3 1403.7,1096.1 1403.7,1094.7 1403.8,1093.1 1403.9,1091.3 1404.0,1089.3 1404.0,1087.1 1404.1,1084.7 1404.2,1082.2 1404.4,1079.4 1404.5,1076.4 1404.6,1073.2 1404.7,1069.8 1404.9,1066.2 1405.1,1062.5 1405.2,1058.5 1405.4,1054.4 1405.6,1050.0 1405.8,1045.6 1406.0,1040.9 1406.2,1036.1 1406.4,1031.1 1406.7,1026.0 1406.9,1020.7 1407.2,1015.3 1407.4,1009.7 1407.7,1004.0 1408.0,998.2 1408.3,992.3 1408.6,986.2 1408.9,980.1 1409.2,973.9 1409.6,967.6 1409.9,961.2 1410.3,954.7 1410.6,948.2 1411.0,941.6 1411.4,935.0 1411.8,928.3 1412.2,921.6 1412.6,914.9 1413.1,908.2 1413.5,901.4 1414.0,894.7 1414.4,888.0 1414.9,881.2 1415.4,874.5 1415.9,867.8 1416.4,861.2 1416.9,854.6 1417.5,848.0 1418.0,841.5 1418.6,835.0 1419.1,828.6 1419.7,822.3 1420.3,816.1 1420.9,809.9 1421.5,803.8 1422.1,797.8 1422.8,791.8 1423.4,786.0 1424.1,780.3 1424.7,774.6 1425.4,769.1 1426.1,763.7 1426.8,758.3 1427.6,753.1 1428.3,748.0 1429.0,743.0 1429.8,738.1 1430.5,733.4 1431.3,728.7 1432.1,724.2 1432.9,719.7 1433.7,715.4 1434.6,711.2 1435.4,707.1 1436.3,703.2 1437.1,699.3 1438.0,695.6 1438.9,691.9 1439.8,688.4 1440.7,685.0 1441.6,681.7 1442.6,678.5 1443.5,675.4 1444.5,672.4 1445.5,669.5 1446.4,666.6 1447.4,663.9 1448.5,661.3 1449.5,658.8 1450.5,656.3 1451.6,653.9 1452.6,651.7 1453.7,649.5 1454.8,647.3 1455.9,645.3 1457.0,643.3 1458.1,641.4 1459.3,639.5 1460.4,637.7 1461.6,636.0 1462.8,634.3 1464.0,632.7 1465.2,631.2 1466.4,629.7 1467.6,628.2 1468.9,626.8 1470.1,625.4 1471.4,624.1 1472.7,622.8 1474.0,621.5 1475.3,620.3 1476.6,619.2 1478.0,618.0 1479.3,616.9 1480.7,615.8 1482.0,614.7 1483.4,613.7 1484.8,612.7 1486.2,611.7 1487.7,610.7 1489.1,609.7 1490.6,608.8 1492.0,607.9 1493.5,606.9 1495.0,606.0 1496.5,605.2 1498.1,604.3 1499.6,603.4 1501.1,602.6 1502.7,601.7 1502.7,1290.0 M1650.5,1290.0 1650.5,1086.0 1650.5,1085.1 1650.6,1083.9 1650.6,1083.1 1650.7,1082.1 1650.7,1081.0 1650.8,1079.7 1650.9,1078.2 1651.0,1076.6 1651.1,1074.8 1651.2,1072.9 1651.3,1070.7 1651.4,1068.5 1651.5,1066.0 1651.6,1063.4 1651.8,1060.6 1651.9,1057.7 1652.1,1054.6 1652.3,1051.3 1652.5,1047.9 1652.7,1044.3 1652.9,1040.6 1653.1,1036.7 1653.3,1032.7 1653.5,1028.6 1653.8,1024.3 1654.0,1019.8 1654.3,1015.2 1654.5,1010.5 1654.8,1005.7 1655.1,1000.7 1655.4,995.7 1655.7,990.5 1656.1,985.2 1656.4,979.8 1656.8,974.4 1657.1,968.8 1657.5,963.1 1657.9,957.4 1658.3,951.6 1658.7,945.7 1659.1,939.8 1659.5,933.8 1659.9,927.8 1660.4,921.7 1660.8,915.5 1661.3,909.4 1661.8,903.2 1662.3,897.0 1662.8,890.7 1663.3,884.5 1663.8,878.2 1664.4,872.0 1664.9,865.8 1665.5,859.5 1666.1,853.3 1666.6,847.1 1667.2,840.9 1667.9,834.8 1668.5,828.7 1669.1,822.6 1669.8,816.6 1670.4,810.7 1671.1,804.7 1671.8,798.9 1672.5,793.1 1673.2,787.4 1673.9,781.7 1674.6,776.1 1675.4,770.6 1676.1,765.1 1676.9,759.8 1677.7,754.5 1678.4,749.3 1679.3,744.2 1680.1,739.2 1680.9,734.3 1681.7,729.4 1682.6,724.7 1683.5,720.1 1684.3,715.5 1685.2,711.1 1686.1,706.7 1687.1,702.5 1688.0,698.4 1688.9,694.3 1689.9,690.4 1690.9,686.5 1691.8,682.8 1692.8,679.1 1693.8,675.6 1694.9,672.2 1695.9,668.8 1697.0,665.6 1698.0,662.4 1699.1,659.4 1700.2,656.4 1701.3,653.5 1702.4,650.8 1703.5,648.1 1704.6,645.5 1705.8,643.0 1707.0,640.6 1708.1,638.3 1709.3,636.0 1710.5,633.9 1711.8,631.8 1713.0,629.8 1714.2,627.9 1715.5,626.0 1716.8,624.2 1718.1,622.5 1719.3,620.9 1720.7,619.3 1722.0,617.8 1723.3,616.4 1724.7,615.0 1726.0,613.7 1727.4,612.4 1728.8,611.2 1730.2,610.1 1731.7,609.0 1733.1,607.9 1734.5,606.9 1736.0,606.0 1737.5,605.1 1739.0,604.2 1740.5,603.4 1742.0,602.6 1743.5,601.9 1745.1,601.1 1746.6,600.5 1748.2,599.8 1749.8,599.2 1751.4,598.6 1753.0,598.1 1753.0,1290.0" stroke="#00ff00" stroke-width="5.2"/>
<path d="M417.1,1290.0 417.1,1084.4 417.1,1083.4 417.2,1081.9 417.2,1080.9 417.3,1079.7 417.3,1078.3 417.4,1076.7 417.5,1074.9 417.6,1072.9 417.6,1070.8 417.7,1068.4 417.9,1065.9 418.0,1063.2 418.1,1060.3 418.2,1057.2 418.4,1054.0 418.5,1050.6 418.7,1047.0 418.8,1043.3 419.0,1039.5 419.2,1035.5 419.4,1031.4 419.6,1027.2 419.8,1022.8 420.1,1018.4 420.3,1013.8 420.5,1009.2 420.8,1004.5 421.1,999.7 421.4,994.9 421.6,990.0 421.9,985.1 422.3,980.1 422.6,975.1 422.9,970.2 423.2,965.2 423.6,960.2 424.0,955.2 424.3,950.3 424.7,945.4 425.1,940.5 425.5,935.6 425.9,930.8 426.4,926.1 426.8,921.4 427.2,916.8 427.7,912.3 428.2,907.8 428.7,903.4 429.2,899.2 429.7,894.9 430.2,890.8 430.7,886.8 431.3,882.9 431.8,879.0 432.4,875.3 432.9,871.6 433.5,868.1 434.1,864.7 434.7,861.3 435.4,858.1 436.0,854.9 436.6,851.8 437.3,848.9 438.0,846.0 438.6,843.2 439.3,840.6 440.0,838.0 440.8,835.4 441.5,833.0 442.2,830.7 443.0,828.4 443.8,826.2 444.5,824.1 445.3,822.0 446.1,820.0 446.9,818.1 447.8,816.3 448.6,814.5 449.5,812.7 450.3,811.1 451.2,809.4 452.1,807.9 453.0,806.3 453.9,804.8 454.8,803.4 455.8,802.0 456.7,800.6 457.7,799.3 458.7,798.0 459.6,796.8 460.6,795.5 461.7,794.3 462.7,793.2 463.7,792.0 464.8,790.9 465.8,789.8 466.9,788.8 468.0,787.7 469.1,786.7 470.2,785.7 471.4,784.7 472.5,783.7 473.7,782.8 474.8,781.9 476.0,781.0 477.2,780.1 478.4,779.2 479.7,778.3 480.9,777.5 482.1,776.6 483.4,775.8 484.7,775.0 486.0,774.2 487.3,773.4 488.6,772.6 489.9,771.9 491.2,771.1 492.6,770.4 494.0,769.6 495.4,768.9 496.7,768.2 498.2,767.5 499.6,766.9 501.0,766.2 502.5,765.5 503.9,764.9 505.4,764.3 506.9,763.6 508.4,763.0 509.9,762.4 511.4,761.8 513.0,761.3 514.5,760.7 516.1,760.1 517.7,759.6 517.7,1290.0 M665.0,1290.0 665.0,1066.0 665.0,1065.1 665.1,1063.8 665.1,1062.9 665.2,1061.8 665.2,1060.6 665.3,1059.2 665.4,1057.6 665.5,1055.8 665.5,1053.9 665.6,1051.8 665.7,1049.6 665.9,1047.2 666.0,1044.6 666.1,1041.9 666.3,1039.0 666.4,1035.9 666.6,1032.8 666.7,1029.5 666.9,1026.0 667.1,1022.5 667.3,1018.8 667.5,1015.0 667.7,1011.1 667.9,1007.1 668.2,1003.0 668.4,998.9 668.7,994.6 669.0,990.3 669.2,986.0 669.5,981.6 669.8,977.1 670.1,972.6 670.4,968.1 670.8,963.6 671.1,959.1 671.5,954.6 671.8,950.1 672.2,945.5 672.6,941.1 673.0,936.6 673.4,932.2 673.8,927.8 674.2,923.4 674.6,919.1 675.1,914.9 675.5,910.7 676.0,906.6 676.5,902.5 677.0,898.6 677.5,894.7 678.0,890.8 678.5,887.1 679.1,883.4 679.6,879.8 680.2,876.3 680.8,872.9 681.3,869.6 681.9,866.3 682.5,863.2 683.2,860.1 683.8,857.1 684.4,854.2 685.1,851.4 685.7,848.7 686.4,846.0 687.1,843.4 687.8,841.0 688.5,838.5 689.2,836.2 690.0,833.9 690.7,831.7 691.5,829.6 692.3,827.5 693.1,825.5 693.9,823.6 694.7,821.7 695.5,819.9 696.3,818.1 697.2,816.4 698.0,814.7 698.9,813.1 699.8,811.5 700.7,809.9 701.6,808.4 702.5,806.9 703.4,805.5 704.4,804.1 705.3,802.7 706.3,801.4 707.3,800.1 708.3,798.8 709.3,797.5 710.3,796.3 711.4,795.1 712.4,793.9 713.5,792.7 714.5,791.5 715.6,790.4 716.7,789.2 717.8,788.1 718.9,787.0 720.1,785.9 721.2,784.8 722.4,783.7 723.6,782.7 724.8,781.6 726.0,780.6 727.2,779.5 728.4,778.5 729.6,777.5 730.9,776.5 732.2,775.4 733.5,774.4 734.7,773.4 736.1,772.4 737.4,771.5 738.7,770.5 740.1,769.5 741.4,768.5 742.8,767.6 744.2,766.6 745.6,765.7 747.0,764.7 748.4,763.8 749.9,762.8 751.3,761.9 752.8,761.0 754.3,760.1 755.7,759.2 757.3,758.2 758.8,757.3 760.3,756.4 761.9,755.6 763.4,754.7 765.0,753.8 765.0,1290.0 M911.4,1290.0 911.4,1081.6 911.4,1080.6 911.5,1079.2 911.5,1078.2 911.6,1077.1 911.6,1075.7 911.7,1074.2 911.8,1072.5 911.9,1070.7 911.9,1068.6 912.0,1066.4 912.1,1064.0 912.3,1061.4 912.4,1058.6 912.5,1055.7 912.6,1052.6 912.8,1049.3 913.0,1045.9 913.1,1042.4 913.3,1038.7 913.5,1034.8 913.7,1030.9 913.9,1026.8 914.1,1022.6 914.3,1018.3 914.6,1013.9 914.8,1009.5 915.1,1004.9 915.3,1000.3 915.6,995.6 915.9,990.8 916.2,986.0 916.5,981.2 916.8,976.3 917.1,971.5 917.5,966.6 917.8,961.7 918.2,956.8 918.6,951.9 918.9,947.1 919.3,942.3 919.7,937.5 920.1,932.7 920.6,928.0 921.0,923.3 921.4,918.7 921.9,914.2 922.4,909.7 922.9,905.3 923.3,901.0 923.8,896.8 924.4,892.6 924.9,888.6 925.4,884.6 926.0,880.7 926.5,876.9 927.1,873.2 927.7,869.5 928.3,866.0 928.9,862.6 929.5,859.3 930.1,856.0 930.7,852.9 931.4,849.8 932.1,846.9 932.7,844.0 933.4,841.2 934.1,838.5 934.8,835.9 935.6,833.4 936.3,830.9 937.0,828.6 937.8,826.3 938.6,824.1 939.3,821.9 940.1,819.9 940.9,817.9 941.8,815.9 942.6,814.1 943.4,812.2 944.3,810.5 945.2,808.8 946.0,807.1 946.9,805.5 947.8,804.0 948.7,802.5 949.7,801.0 950.6,799.6 951.6,798.2 952.5,796.9 953.5,795.5 954.5,794.3 955.5,793.0 956.5,791.8 957.6,790.6 958.6,789.4 959.7,788.3 960.7,787.2 961.8,786.1 962.9,785.0 964.0,783.9 965.1,782.9 966.3,781.9 967.4,780.9 968.6,779.9 969.7,778.9 970.9,778.0 972.1,777.1 973.3,776.1 974.6,775.2 975.8,774.3 977.0,773.4 978.3,772.6 979.6,771.7 980.9,770.8 982.2,770.0 983.5,769.2 984.8,768.3 986.2,767.5 987.5,766.7 988.9,765.9 990.3,765.2 991.6,764.4 993.1,763.6 994.5,762.9 995.9,762.1 997.4,761.4 998.8,760.7 1000.3,759.9 1001.8,759.2 1003.3,758.5 1004.8,757.9 1006.3,757.2 1007.9,756.5 1009.4,755.9 1011.0,755.2 1011.0,1290.0 M1159.0,1290.0 1159.0,1058.2 1159.1,1056.9 1159.1,1055.6 1159.2,1054.7 1159.2,1053.7 1159.3,1052.6 1159.4,1051.3 1159.5,1049.9 1159.6,1048.3 1159.6,1046.6 1159.8,1044.7 1159.9,1042.7 1160.0,1040.6 1160.1,1038.3 1160.3,1036.0 1160.4,1033.4 1160.6,1030.8 1160.7,1028.0 1160.9,1025.1 1161.1,1022.0 1161.3,1018.9 1161.5,1015.6 1161.7,1012.3 1162.0,1008.8 1162.2,1005.3 1162.5,1001.6 1162.7,997.9 1163.0,994.1 1163.3,990.2 1163.6,986.2 1163.9,982.2 1164.2,978.1 1164.5,974.0 1164.8,969.8 1165.2,965.6 1165.5,961.3 1165.9,957.1 1166.3,952.7 1166.6,948.4 1167.0,944.1 1167.4,939.8 1167.9,935.4 1168.3,931.1 1168.7,926.8 1169.2,922.5 1169.7,918.2 1170.1,913.9 1170.6,909.7 1171.1,905.5 1171.6,901.3 1172.1,897.2 1172.7,893.2 1173.2,889.2 1173.8,885.2 1174.3,881.3 1174.9,877.5 1175.5,873.7 1176.1,870.0 1176.7,866.3 1177.3,862.8 1178.0,859.3 1178.6,855.8 1179.3,852.5 1180.0,849.2 1180.6,846.0 1181.3,842.9 1182.0,839.8 1182.8,836.9 1183.5,834.0 1184.2,831.2 1185.0,828.4 1185.8,825.8 1186.5,823.2 1187.3,820.7 1188.1,818.3 1189.0,816.0 1189.8,813.7 1190.6,811.5 1191.5,809.4 1192.4,807.3 1193.2,805.3 1194.1,803.4 1195.0,801.5 1195.9,799.8 1196.9,798.0 1197.8,796.4 1198.8,794.8 1199.7,793.2 1200.7,791.7 1201.7,790.3 1202.7,788.9 1203.7,787.6 1204.8,786.3 1205.8,785.0 1206.9,783.8 1207.9,782.7 1209.0,781.6 1210.1,780.5 1211.2,779.5 1212.4,778.5 1213.5,777.5 1214.6,776.6 1215.8,775.7 1217.0,774.9 1218.2,774.0 1219.4,773.2 1220.6,772.5 1221.8,771.7 1223.0,771.0 1224.3,770.3 1225.6,769.6 1226.8,768.9 1228.1,768.3 1229.4,767.7 1230.8,767.1 1232.1,766.5 1233.4,766.0 1234.8,765.4 1236.2,764.9 1237.6,764.4 1239.0,763.9 1240.4,763.4 1241.8,762.9 1243.2,762.4 1244.7,762.0 1246.2,761.5 1247.7,761.1 1249.1,760.7 1250.7,760.3 1252.2,759.9 1253.7,759.5 1255.3,759.1 1256.8,758.7 1258.4,758.4 1260.0,758.0 1260.0,1290.0 M1406.5,1290.0 1406.5,1117.7 1406.5,1116.3 1406.6,1115.4 1406.6,1114.3 1406.6,1113.0 1406.7,1111.4 1406.7,1109.6 1406.8,1107.5 1406.9,1105.2 1407.0,1102.6 1407.0,1099.8 1407.1,1096.8 1407.2,1093.5 1407.4,1090.0 1407.5,1086.3 1407.6,1082.4 1407.8,1078.3 1407.9,1074.0 1408.1,1069.6 1408.2,1065.0 1408.4,1060.2 1408.6,1055.3 1408.8,1050.3 1409.0,1045.1 1409.2,1039.9 1409.5,1034.6 1409.7,1029.2 1409.9,1023.7 1410.2,1018.2 1410.5,1012.6 1410.7,1007.1 1411.0,1001.5 1411.3,995.9 1411.6,990.3 1411.9,984.8 1412.3,979.3 1412.6,973.8 1413.0,968.4 1413.3,963.0 1413.7,957.7 1414.1,952.4 1414.5,947.3 1414.9,942.2 1415.3,937.2 1415.7,932.2 1416.2,927.4 1416.6,922.7 1417.1,918.0 1417.5,913.5 1418.0,909.1 1418.5,904.7 1419.0,900.5 1419.5,896.3 1420.1,892.2 1420.6,888.3 1421.1,884.4 1421.7,880.6 1422.3,877.0 1422.9,873.4 1423.5,869.9 1424.1,866.4 1424.7,863.1 1425.3,859.9 1426.0,856.7 1426.6,853.6 1427.3,850.5 1428.0,847.6 1428.7,844.7 1429.4,841.9 1430.1,839.1 1430.8,836.4 1431.5,833.8 1432.3,831.2 1433.0,828.7 1433.8,826.3 1434.6,823.9 1435.4,821.5 1436.2,819.2 1437.0,817.0 1437.9,814.8 1438.7,812.6 1439.6,810.5 1440.5,808.5 1441.3,806.4 1442.2,804.5 1443.2,802.6 1444.1,800.7 1445.0,798.9 1446.0,797.1 1446.9,795.3 1447.9,793.6 1448.9,792.0 1449.9,790.4 1450.9,788.8 1451.9,787.2 1452.9,785.7 1454.0,784.3 1455.1,782.9 1456.1,781.5 1457.2,780.2 1458.3,778.9 1459.4,777.6 1460.6,776.4 1461.7,775.2 1462.8,774.0 1464.0,772.9 1465.2,771.8 1466.4,770.8 1467.6,769.7 1468.8,768.8 1470.0,767.8 1471.3,766.9 1472.5,766.0 1473.8,765.1 1475.1,764.3 1476.4,763.5 1477.7,762.8 1479.0,762.0 1480.4,761.3 1481.7,760.6 1483.1,760.0 1484.4,759.3 1485.8,758.7 1487.2,758.1 1488.6,757.6 1490.1,757.1 1491.5,756.5 1493.0,756.0 1494.4,755.6 1495.9,755.1 1497.4,754.7 1498.9,754.3 1500.5,753.9 1502.0,753.5 1503.6,753.2 1505.1,752.8 1506.7,752.5 1506.7,1290.0 M1653.5,1290.0 1653.5,1052.1 1653.6,1050.9 1653.6,1049.6 1653.7,1048.8 1653.7,1047.8 1653.8,1046.7 1653.9,1045.5 1654.0,1044.1 1654.0,1042.6 1654.1,1041.0 1654.2,1039.2 1654.4,1037.3 1654.5,1035.2 1654.6,1033.0 1654.7,1030.7 1654.9,1028.3 1655.1,1025.7 1655.2,1023.1 1655.4,1020.3 1655.6,1017.3 1655.8,1014.3 1656.0,1011.2 1656.2,1008.0 1656.4,1004.7 1656.7,1001.2 1656.9,997.7 1657.2,994.2 1657.4,990.5 1657.7,986.8 1658.0,983.0 1658.3,979.1 1658.6,975.2 1658.9,971.2 1659.2,967.2 1659.6,963.2 1659.9,959.1 1660.3,955.0 1660.7,950.9 1661.0,946.7 1661.4,942.6 1661.8,938.4 1662.2,934.2 1662.7,930.1 1663.1,925.9 1663.5,921.8 1664.0,917.7 1664.5,913.6 1664.9,909.5 1665.4,905.5 1665.9,901.5 1666.4,897.6 1667.0,893.7 1667.5,889.8 1668.0,886.0 1668.6,882.2 1669.2,878.5 1669.8,874.9 1670.3,871.3 1670.9,867.7 1671.6,864.3 1672.2,860.9 1672.8,857.5 1673.5,854.3 1674.1,851.1 1674.8,847.9 1675.5,844.9 1676.2,841.9 1676.9,838.9 1677.6,836.1 1678.4,833.3 1679.1,830.6 1679.9,827.9 1680.6,825.4 1681.4,822.9 1682.2,820.4 1683.0,818.1 1683.8,815.7 1684.7,813.5 1685.5,811.3 1686.4,809.2 1687.2,807.2 1688.1,805.2 1689.0,803.2 1689.9,801.4 1690.8,799.5 1691.7,797.8 1692.7,796.1 1693.6,794.4 1694.6,792.8 1695.6,791.2 1696.6,789.7 1697.6,788.2 1698.6,786.8 1699.6,785.4 1700.7,784.1 1701.7,782.8 1702.8,781.5 1703.9,780.3 1705.0,779.1 1706.1,778.0 1707.2,776.9 1708.3,775.8 1709.5,774.7 1710.6,773.7 1711.8,772.7 1713.0,771.8 1714.2,770.8 1715.4,769.9 1716.6,769.0 1717.8,768.2 1719.1,767.3 1720.3,766.5 1721.6,765.7 1722.9,765.0 1724.2,764.2 1725.5,763.5 1726.8,762.8 1728.2,762.1 1729.5,761.4 1730.9,760.8 1732.3,760.2 1733.7,759.5 1735.1,758.9 1736.5,758.4 1737.9,757.8 1739.4,757.2 1740.8,756.7 1742.3,756.2 1743.8,755.7 1745.3,755.2 1746.8,754.7 1748.3,754.2 1749.9,753.8 1751.4,753.3 1753.0,752.9 1753.0,1290.0" stroke="#0000ff" stroke-width="5.2"/>
<path d="M417.1,1290.0 417.1,1104.9 417.2,1104.0 417.2,1102.9 417.3,1101.5 417.4,1100.6 417.5,1099.6 417.6,1098.5 417.6,1097.2 417.7,1095.9 417.9,1094.5 418.0,1092.9 418.1,1091.3 418.2,1089.5 418.4,1087.6 418.5,1085.6 418.7,1083.6 418.8,1081.4 419.0,1079.1 419.2,1076.7 419.4,1074.2 419.6,1071.7 419.8,1069.0 420.1,1066.3 420.3,1063.5 420.5,1060.6 420.8,1057.6 421.1,1054.6 421.4,1051.5 421.6,1048.3 421.9,1045.1 422.3,1041.8 422.6,1038.5 422.9,1035.1 423.2,1031.7 423.6,1028.3 424.0,1024.8 424.3,1021.3 424.7,1017.7 425.1,1014.1 425.5,1010.5 425.9,1006.9 426.4,1003.3 426.8,999.7 427.2,996.1 427.7,992.4 428.2,988.8 428.7,985.2 429.2,981.6 429.7,978.0 430.2,974.4 430.7,970.8 431.3,967.3 431.8,963.7 432.4,960.2 432.9,956.7 433.5,953.3 434.1,949.9 434.7,946.5 435.4,943.1 436.0,939.8 436.6,936.5 437.3,933.3 438.0,930.1 438.6,926.9 439.3,923.8 440.0,920.7 440.8,917.7 441.5,914.7 442.2,911.8 443.0,908.9 443.8,906.0 444.5,903.2 445.3,900.4 446.1,897.7 446.9,895.1 447.8,892.5 448.6,889.9 449.5,887.4 450.3,884.9 451.2,882.5 452.1,880.1 453.0,877.8 453.9,875.5 454.8,873.3 455.8,871.1 456.7,869.0 457.7,866.9 458.7,864.8 459.6,862.8 460.6,860.9 461.7,859.0 462.7,857.1 463.7,855.3 464.8,853.6 465.8,851.8 466.9,850.1 468.0,848.5 469.1,846.9 470.2,845.3 471.4,843.8 472.5,842.4 473.7,840.9 474.8,839.5 476.0,838.2 477.2,836.9 478.4,835.6 479.7,834.3 480.9,833.1 482.1,832.0 483.4,830.8 484.7,829.7 486.0,828.7 487.3,827.6 488.6,826.6 489.9,825.7 491.2,824.7 492.6,823.8 494.0,823.0 495.4,822.1 496.7,821.3 498.2,820.5 499.6,819.8 501.0,819.0 502.5,818.3 503.9,817.6 505.4,817.0 506.9,816.4 508.4,815.8 509.9,815.2 511.4,814.6 513.0,814.1 514.5,813.6 516.1,813.1 517.7,812.6 517.7,1290.0 M665.0,1290.0 665.0,1103.9 665.1,1102.9 665.1,1101.9 665.2,1100.4 665.3,1099.5 665.4,1098.5 665.5,1097.3 665.5,1096.1 665.6,1094.7 665.7,1093.3 665.9,1091.7 666.0,1090.0 666.1,1088.2 666.3,1086.3 666.4,1084.2 666.6,1082.1 666.7,1079.9 666.9,1077.5 667.1,1075.1 667.3,1072.5 667.5,1069.9 667.7,1067.1 667.9,1064.3 668.2,1061.3 668.4,1058.3 668.7,1055.2 669.0,1052.0 669.2,1048.8 669.5,1045.5 669.8,1042.1 670.1,1038.6 670.4,1035.1 670.8,1031.5 671.1,1027.9 671.5,1024.2 671.8,1020.5 672.2,1016.7 672.6,1012.9 673.0,1009.1 673.4,1005.2 673.8,1001.3 674.2,997.4 674.6,993.5 675.1,989.5 675.5,985.6 676.0,981.7 676.5,977.7 677.0,973.8 677.5,969.8 678.0,965.9 678.5,962.0 679.1,958.1 679.6,954.3 680.2,950.5 680.8,946.6 681.3,942.9 681.9,939.1 682.5,935.4 683.2,931.8 683.8,928.2 684.4,924.6 685.1,921.1 685.7,917.6 686.4,914.1 687.1,910.8 687.8,907.5 688.5,904.2 689.2,901.0 690.0,897.8 690.7,894.8 691.5,891.7 692.3,888.8 693.1,885.9 693.9,883.0 694.7,880.2 695.5,877.5 696.3,874.9 697.2,872.3 698.0,869.8 698.9,867.3 699.8,864.9 700.7,862.6 701.6,860.3 702.5,858.1 703.4,855.9 704.4,853.8 705.3,851.8 706.3,849.8 707.3,847.9 708.3,846.0 709.3,844.2 710.3,842.5 711.4,840.8 712.4,839.1 713.5,837.5 714.5,836.0 715.6,834.5 716.7,833.0 717.8,831.6 718.9,830.2 720.1,828.9 721.2,827.7 722.4,826.4 723.6,825.2 724.8,824.1 726.0,823.0 727.2,821.9 728.4,820.8 729.6,819.8 730.9,818.8 732.2,817.9 733.5,817.0 734.7,816.1 736.1,815.2 737.4,814.4 738.7,813.6 740.1,812.8 741.4,812.0 742.8,811.3 744.2,810.6 745.6,809.9 747.0,809.2 748.4,808.6 749.9,807.9 751.3,807.3 752.8,806.7 754.3,806.1 755.7,805.6 757.3,805.0 758.8,804.5 760.3,804.0 761.9,803.5 763.4,803.0 765.0,802.5 765.0,1290.0 M911.4,1290.0 911.4,1119.3 911.4,1118.5 911.5,1117.3 911.5,1116.4 911.6,1115.5 911.6,1114.3 911.7,1113.0 911.8,1111.6 911.9,1110.0 911.9,1108.3 912.0,1106.3 912.1,1104.3 912.3,1102.1 912.4,1099.7 912.5,1097.2 912.6,1094.5 912.8,1091.7 913.0,1088.8 913.1,1085.7 913.3,1082.5 913.5,1079.1 913.7,1075.7 913.9,1072.1 914.1,1068.4 914.3,1064.7 914.6,1060.8 914.8,1056.8 915.1,1052.8 915.3,1048.6 915.6,1044.4 915.9,1040.1 916.2,1035.8 916.5,1031.4 916.8,1027.0 917.1,1022.6 917.5,1018.1 917.8,1013.6 918.2,1009.0 918.6,1004.5 918.9,999.9 919.3,995.4 919.7,990.8 920.1,986.3 920.6,981.8 921.0,977.3 921.4,972.8 921.9,968.4 922.4,964.0 922.9,959.6 923.3,955.3 923.8,951.1 924.4,946.9 924.9,942.7 925.4,938.7 926.0,934.6 926.5,930.7 927.1,926.8 927.7,923.0 928.3,919.2 928.9,915.6 929.5,912.0 930.1,908.4 930.7,905.0 931.4,901.6 932.1,898.3 932.7,895.1 933.4,891.9 934.1,888.9 934.8,885.9 935.6,882.9 936.3,880.1 937.0,877.3 937.8,874.6 938.6,872.0 939.3,869.4 940.1,866.9 940.9,864.5 941.8,862.2 942.6,859.9 943.4,857.7 944.3,855.5 945.2,853.4 946.0,851.4 946.9,849.4 947.8,847.4 948.7,845.6 949.7,843.7 950.6,842.0 951.6,840.3 952.5,838.6 953.5,837.0 954.5,835.4 955.5,833.9 956.5,832.4 957.6,830.9 958.6,829.5 959.7,828.2 960.7,826.8 961.8,825.5 962.9,824.3 964.0,823.1 965.1,821.9 966.3,820.7 967.4,819.6 968.6,818.5 969.7,817.5 970.9,816.4 972.1,815.4 973.3,814.5 974.6,813.5 975.8,812.6 977.0,811.7 978.3,810.8 979.6,810.0 980.9,809.1 982.2,808.3 983.5,807.6 984.8,806.8 986.2,806.1 987.5,805.4 988.9,804.7 990.3,804.0 991.6,803.4 993.1,802.7 994.5,802.1 995.9,801.5 997.4,800.9 998.8,800.4 1000.3,799.8 1001.8,799.3 1003.3,798.8 1004.8,798.3 1006.3,797.8 1007.9,797.4 1009.4,796.9 1011.0,796.5 1011.0,1290.0 M1159.0,1290.0 1159.0,1117.5 1159.1,1116.3 1159.1,1115.1 1159.2,1114.3 1159.2,1113.3 1159.3,1112.3 1159.4,1111.1 1159.4,1109.7 1159.5,1108.3 1159.6,1106.7 1159.7,1105.0 1159.8,1103.1 1160.0,1101.1 1160.1,1099.0 1160.2,1096.7 1160.4,1094.3 1160.5,1091.8 1160.7,1089.2 1160.9,1086.5 1161.0,1083.6 1161.2,1080.6 1161.4,1077.5 1161.6,1074.3 1161.9,1071.0 1162.1,1067.6 1162.3,1064.1 1162.6,1060.5 1162.8,1056.8 1163.1,1053.0 1163.4,1049.2 1163.7,1045.3 1164.0,1041.3 1164.3,1037.2 1164.6,1033.1 1164.9,1029.0 1165.3,1024.8 1165.6,1020.5 1166.0,1016.2 1166.3,1011.9 1166.7,1007.5 1167.1,1003.2 1167.5,998.8 1167.9,994.4 1168.4,989.9 1168.8,985.5 1169.2,981.1 1169.7,976.7 1170.2,972.3 1170.6,967.9 1171.1,963.6 1171.6,959.2 1172.1,954.9 1172.6,950.6 1173.2,946.4 1173.7,942.2 1174.3,938.0 1174.8,933.9 1175.4,929.9 1176.0,925.9 1176.6,921.9 1177.2,918.0 1177.8,914.2 1178.5,910.4 1179.1,906.7 1179.8,903.1 1180.4,899.5 1181.1,896.0 1181.8,892.6 1182.5,889.2 1183.2,885.9 1184.0,882.7 1184.7,879.5 1185.4,876.5 1186.2,873.5 1187.0,870.6 1187.8,867.7 1188.6,864.9 1189.4,862.2 1190.2,859.6 1191.0,857.1 1191.9,854.6 1192.7,852.2 1193.6,849.8 1194.5,847.6 1195.4,845.4 1196.3,843.2 1197.2,841.2 1198.1,839.2 1199.1,837.2 1200.0,835.3 1201.0,833.5 1202.0,831.8 1203.0,830.1 1204.0,828.4 1205.0,826.9 1206.0,825.3 1207.0,823.8 1208.1,822.4 1209.2,821.0 1210.2,819.7 1211.3,818.4 1212.4,817.2 1213.5,816.0 1214.7,814.8 1215.8,813.7 1217.0,812.6 1218.1,811.5 1219.3,810.5 1220.5,809.6 1221.7,808.6 1222.9,807.7 1224.2,806.8 1225.4,806.0 1226.7,805.1 1227.9,804.3 1229.2,803.6 1230.5,802.8 1231.8,802.1 1233.1,801.4 1234.5,800.7 1235.8,800.0 1237.2,799.4 1238.5,798.8 1239.9,798.2 1241.3,797.6 1242.7,797.0 1244.1,796.5 1245.6,795.9 1247.0,795.4 1248.5,794.9 1250.0,794.4 1251.5,793.9 1253.0,793.4 1254.5,793.0 1256.0,792.5 1256.0,1290.0 M1406.5,1290.0 1406.5,1138.1 1406.5,1137.0 1406.6,1135.4 1406.6,1134.3 1406.7,1133.0 1406.7,1131.4 1406.8,1129.7 1406.9,1127.8 1407.0,1125.7 1407.0,1123.4 1407.1,1120.8 1407.2,1118.1 1407.4,1115.2 1407.5,1112.1 1407.6,1108.8 1407.8,1105.4 1407.9,1101.8 1408.1,1098.0 1408.2,1094.1 1408.4,1090.0 1408.6,1085.8 1408.8,1081.5 1409.0,1077.1 1409.2,1072.5 1409.5,1067.9 1409.7,1063.2 1409.9,1058.4 1410.2,1053.6 1410.5,1048.7 1410.7,1043.7 1411.0,1038.7 1411.3,1033.7 1411.6,1028.7 1411.9,1023.7 1412.3,1018.6 1412.6,1013.6 1413.0,1008.6 1413.3,1003.6 1413.7,998.7 1414.1,993.8 1414.5,988.9 1414.9,984.1 1415.3,979.3 1415.7,974.6 1416.2,969.9 1416.6,965.4 1417.1,960.9 1417.5,956.4 1418.0,952.1 1418.5,947.8 1419.0,943.6 1419.5,939.4 1420.1,935.4 1420.6,931.4 1421.1,927.5 1421.7,923.7 1422.3,920.0 1422.9,916.3 1423.5,912.7 1424.1,909.2 1424.7,905.8 1425.3,902.5 1426.0,899.2 1426.6,896.0 1427.3,892.8 1428.0,889.8 1428.7,886.8 1429.4,883.9 1430.1,881.0 1430.8,878.2 1431.5,875.5 1432.3,872.8 1433.0,870.2 1433.8,867.6 1434.6,865.1 1435.4,862.6 1436.2,860.3 1437.0,857.9 1437.9,855.6 1438.7,853.4 1439.6,851.2 1440.5,849.0 1441.3,846.9 1442.2,844.9 1443.2,842.9 1444.1,840.9 1445.0,839.0 1446.0,837.1 1446.9,835.3 1447.9,833.5 1448.9,831.7 1449.9,830.0 1450.9,828.3 1451.9,826.7 1452.9,825.1 1454.0,823.6 1455.1,822.1 1456.1,820.6 1457.2,819.1 1458.3,817.8 1459.4,816.4 1460.6,815.1 1461.7,813.8 1462.8,812.5 1464.0,811.3 1465.2,810.1 1466.4,809.0 1467.6,807.9 1468.8,806.8 1470.0,805.7 1471.3,804.7 1472.5,803.7 1473.8,802.8 1475.1,801.9 1476.4,801.0 1477.7,800.1 1479.0,799.3 1480.4,798.5 1481.7,797.7 1483.1,797.0 1484.4,796.2 1485.8,795.5 1487.2,794.9 1488.6,794.2 1490.1,793.6 1491.5,793.0 1493.0,792.4 1494.4,791.9 1495.9,791.3 1497.4,790.8 1498.9,790.3 1500.5,789.9 1502.0,789.4 1503.6,789.0 1505.1,788.6 1506.7,788.2 1506.7,1290.0 M1653.5,1290.0 1653.5,1088.8 1653.6,1087.6 1653.6,1086.3 1653.7,1085.4 1653.7,1084.5 1653.8,1083.4 1653.9,1082.1 1653.9,1080.7 1654.0,1079.2 1654.1,1077.5 1654.2,1075.8 1654.3,1073.8 1654.4,1071.8 1654.6,1069.6 1654.7,1067.2 1654.9,1064.8 1655.0,1062.2 1655.2,1059.5 1655.3,1056.7 1655.5,1053.8 1655.7,1050.8 1655.9,1047.6 1656.1,1044.4 1656.3,1041.1 1656.6,1037.6 1656.8,1034.1 1657.1,1030.6 1657.3,1026.9 1657.6,1023.2 1657.9,1019.4 1658.1,1015.5 1658.4,1011.6 1658.7,1007.6 1659.1,1003.6 1659.4,999.6 1659.7,995.5 1660.1,991.5 1660.4,987.3 1660.8,983.2 1661.2,979.1 1661.6,975.0 1662.0,970.8 1662.4,966.7 1662.8,962.6 1663.2,958.5 1663.7,954.4 1664.1,950.3 1664.6,946.3 1665.1,942.3 1665.6,938.4 1666.1,934.4 1666.6,930.6 1667.1,926.7 1667.6,922.9 1668.1,919.2 1668.7,915.5 1669.3,911.9 1669.8,908.3 1670.4,904.8 1671.0,901.4 1671.6,898.0 1672.2,894.7 1672.9,891.4 1673.5,888.2 1674.2,885.1 1674.8,882.1 1675.5,879.1 1676.2,876.1 1676.9,873.3 1677.6,870.5 1678.3,867.8 1679.1,865.1 1679.8,862.5 1680.6,860.0 1681.3,857.5 1682.1,855.1 1682.9,852.7 1683.7,850.4 1684.5,848.2 1685.4,846.0 1686.2,843.9 1687.1,841.9 1687.9,839.9 1688.8,837.9 1689.7,836.0 1690.6,834.2 1691.5,832.4 1692.4,830.6 1693.4,828.9 1694.3,827.3 1695.3,825.6 1696.2,824.1 1697.2,822.5 1698.2,821.1 1699.2,819.6 1700.3,818.2 1701.3,816.8 1702.3,815.5 1703.4,814.2 1704.5,812.9 1705.6,811.7 1706.7,810.5 1707.8,809.3 1708.9,808.2 1710.0,807.1 1711.2,806.0 1712.3,804.9 1713.5,803.9 1714.7,802.9 1715.9,801.9 1717.1,801.0 1718.3,800.1 1719.6,799.2 1720.8,798.3 1722.1,797.4 1723.3,796.6 1724.6,795.8 1725.9,795.0 1727.2,794.2 1728.6,793.5 1729.9,792.7 1731.3,792.0 1732.6,791.3 1734.0,790.7 1735.4,790.0 1736.8,789.4 1738.2,788.8 1739.6,788.2 1741.1,787.6 1742.5,787.0 1744.0,786.5 1745.5,785.9 1747.0,785.4 1748.5,784.9 1750.0,784.4 1750.0,1290.0" stroke="#00ffff" stroke-width="5.2"/>
<path d="M417.1,1290.0 417.1,1146.2 417.1,1145.3 417.2,1144.0 417.2,1143.1 417.3,1142.1 417.3,1141.0 417.4,1139.7 417.5,1138.3 417.6,1136.8 417.6,1135.1 417.7,1133.4 417.9,1131.5 418.0,1129.6 418.1,1127.6 418.2,1125.5 418.4,1123.4 418.5,1121.3 418.7,1119.0 418.8,1116.8 419.0,1114.5 419.2,1112.2 419.4,1109.9 419.6,1107.5 419.8,1105.2 420.1,1102.8 420.3,1100.4 420.5,1098.0 420.8,1095.6 421.1,1093.1 421.4,1090.7 421.6,1088.2 421.9,1085.6 422.3,1083.1 422.6,1080.5 422.9,1077.9 423.2,1075.3 423.6,1072.6 424.0,1069.9 424.3,1067.2 424.7,1064.5 425.1,1061.7 425.5,1058.8 425.9,1056.0 426.4,1053.1 426.8,1050.2 427.2,1047.2 427.7,1044.2 428.2,1041.2 428.7,1038.2 429.2,1035.2 429.7,1032.1 430.2,1029.0 430.7,1025.9 431.3,1022.8 431.8,1019.7 432.4,1016.5 432.9,1013.4 433.5,1010.2 434.1,1007.1 434.7,1003.9 435.4,1000.8 436.0,997.6 436.6,994.5 437.3,991.4 438.0,988.2 438.6,985.1 439.3,982.0 440.0,978.9 440.8,975.8 441.5,972.8 442.2,969.7 443.0,966.7 443.8,963.7 444.5,960.8 445.3,957.8 446.1,954.9 446.9,952.0 447.8,949.2 448.6,946.4 449.5,943.6 450.3,940.8 451.2,938.1 452.1,935.4 453.0,932.8 453.9,930.2 454.8,927.6 455.8,925.1 456.7,922.6 457.7,920.2 458.7,917.8 459.6,915.4 460.6,913.1 461.7,910.8 462.7,908.6 463.7,906.4 464.8,904.3 465.8,902.2 466.9,900.1 468.0,898.1 469.1,896.1 470.2,894.2 471.4,892.4 472.5,890.5 473.7,888.7 474.8,887.0 476.0,885.3 477.2,883.7 478.4,882.1 479.7,880.5 480.9,879.0 482.1,877.5 483.4,876.1 484.7,874.7 486.0,873.3 487.3,872.0 488.6,870.7 489.9,869.5 491.2,868.3 492.6,867.1 494.0,866.0 495.4,864.9 496.7,863.9 498.2,862.9 499.6,861.9 501.0,861.0 502.5,860.0 503.9,859.2 505.4,858.3 506.9,857.5 508.4,856.7 509.9,856.0 511.4,855.2 513.0,854.5 514.5,853.9 516.1,853.2 517.7,852.6 517.7,1290.0 M665.0,1290.0 665.0,1167.1 665.0,1166.1 665.1,1164.6 665.1,1163.6 665.2,1162.4 665.2,1161.0 665.3,1159.5 665.4,1157.8 665.5,1155.9 665.5,1153.8 665.6,1151.6 665.7,1149.3 665.9,1146.7 666.0,1144.1 666.1,1141.3 666.3,1138.4 666.4,1135.4 666.6,1132.3 666.7,1129.1 666.9,1125.8 667.1,1122.4 667.3,1119.0 667.5,1115.5 667.7,1112.0 667.9,1108.4 668.2,1104.8 668.4,1101.1 668.7,1097.5 669.0,1093.8 669.2,1090.1 669.5,1086.4 669.8,1082.6 670.1,1078.9 670.4,1075.2 670.8,1071.5 671.1,1067.8 671.5,1064.1 671.8,1060.4 672.2,1056.7 672.6,1053.0 673.0,1049.3 673.4,1045.6 673.8,1042.0 674.2,1038.3 674.6,1034.7 675.1,1031.0 675.5,1027.4 676.0,1023.8 676.5,1020.1 677.0,1016.5 677.5,1012.9 678.0,1009.4 678.5,1005.8 679.1,1002.2 679.6,998.7 680.2,995.1 680.8,991.6 681.3,988.1 681.9,984.6 682.5,981.1 683.2,977.7 683.8,974.2 684.4,970.8 685.1,967.5 685.7,964.1 686.4,960.8 687.1,957.5 687.8,954.2 688.5,951.0 689.2,947.8 690.0,944.7 690.7,941.5 691.5,938.5 692.3,935.4 693.1,932.4 693.9,929.5 694.7,926.6 695.5,923.7 696.3,920.9 697.2,918.1 698.0,915.4 698.9,912.8 699.8,910.2 700.7,907.6 701.6,905.1 702.5,902.6 703.4,900.2 704.4,897.9 705.3,895.6 706.3,893.3 707.3,891.1 708.3,889.0 709.3,886.9 710.3,884.9 711.4,882.9 712.4,881.0 713.5,879.1 714.5,877.3 715.6,875.5 716.7,873.8 717.8,872.2 718.9,870.5 720.1,869.0 721.2,867.5 722.4,866.0 723.6,864.6 724.8,863.2 726.0,861.9 727.2,860.6 728.4,859.4 729.6,858.2 730.9,857.1 732.2,855.9 733.5,854.9 734.7,853.9 736.1,852.9 737.4,851.9 738.7,851.0 740.1,850.2 741.4,849.3 742.8,848.5 744.2,847.8 745.6,847.0 747.0,846.3 748.4,845.6 749.9,845.0 751.3,844.4 752.8,843.8 754.3,843.2 755.7,842.7 757.3,842.2 758.8,841.7 760.3,841.3 761.9,840.8 763.4,840.4 765.0,840.0 765.0,1290.0 M911.4,1290.0 911.4,1158.4 911.5,1157.4 911.5,1156.4 911.6,1154.9 911.7,1154.0 911.8,1153.0 911.9,1151.8 911.9,1150.6 912.0,1149.2 912.1,1147.7 912.3,1146.2 912.4,1144.4 912.5,1142.6 912.6,1140.7 912.8,1138.6 913.0,1136.5 913.1,1134.2 913.3,1131.8 913.5,1129.4 913.7,1126.8 913.9,1124.1 914.1,1121.3 914.3,1118.4 914.6,1115.4 914.8,1112.4 915.1,1109.2 915.3,1105.9 915.6,1102.6 915.9,1099.2 916.2,1095.7 916.5,1092.1 916.8,1088.5 917.1,1084.8 917.5,1081.1 917.8,1077.2 918.2,1073.4 918.6,1069.4 918.9,1065.5 919.3,1061.5 919.7,1057.4 920.1,1053.4 920.6,1049.2 921.0,1045.1 921.4,1041.0 921.9,1036.8 922.4,1032.6 922.9,1028.4 923.3,1024.2 923.8,1020.0 924.4,1015.8 924.9,1011.6 925.4,1007.4 926.0,1003.3 926.5,999.1 927.1,995.0 927.7,990.9 928.3,986.8 928.9,982.7 929.5,978.7 930.1,974.7 930.7,970.8 931.4,966.9 932.1,963.0 932.7,959.2 933.4,955.5 934.1,951.8 934.8,948.1 935.6,944.5 936.3,941.0 937.0,937.5 937.8,934.0 938.6,930.7 939.3,927.4 940.1,924.1 940.9,920.9 941.8,917.8 942.6,914.8 943.4,911.8 944.3,908.9 945.2,906.0 946.0,903.2 946.9,900.5 947.8,897.9 948.7,895.3 949.7,892.8 950.6,890.3 951.6,887.9 952.5,885.6 953.5,883.3 954.5,881.1 955.5,879.0 956.5,876.9 957.6,874.9 958.6,873.0 959.7,871.1 960.7,869.3 961.8,867.5 962.9,865.8 964.0,864.1 965.1,862.5 966.3,861.0 967.4,859.5 968.6,858.0 969.7,856.6 970.9,855.2 972.1,853.9 973.3,852.7 974.6,851.4 975.8,850.3 977.0,849.1 978.3,848.0 979.6,846.9 980.9,845.9 982.2,844.9 983.5,843.9 984.8,843.0 986.2,842.1 987.5,841.2 988.9,840.4 990.3,839.6 991.6,838.8 993.1,838.0 994.5,837.3 995.9,836.6 997.4,835.9 998.8,835.2 1000.3,834.5 1001.8,833.9 1003.3,833.3 1004.8,832.7 1006.3,832.1 1007.9,831.5 1009.4,830.9 1011.0,830.4 1011.0,1290.0 M1159.0,1290.0 1159.0,1159.1 1159.1,1158.1 1159.1,1157.1 1159.2,1155.6 1159.3,1154.7 1159.4,1153.6 1159.5,1152.5 1159.6,1151.2 1159.6,1149.9 1159.8,1148.4 1159.9,1146.8 1160.0,1145.0 1160.1,1143.2 1160.3,1141.2 1160.4,1139.2 1160.6,1137.0 1160.7,1134.7 1160.9,1132.3 1161.1,1129.8 1161.3,1127.1 1161.5,1124.4 1161.7,1121.6 1162.0,1118.6 1162.2,1115.6 1162.5,1112.5 1162.7,1109.3 1163.0,1106.0 1163.3,1102.6 1163.6,1099.1 1163.9,1095.6 1164.2,1091.9 1164.5,1088.2 1164.8,1084.4 1165.2,1080.6 1165.5,1076.7 1165.9,1072.7 1166.3,1068.7 1166.6,1064.7 1167.0,1060.6 1167.4,1056.4 1167.9,1052.2 1168.3,1048.0 1168.7,1043.8 1169.2,1039.5 1169.7,1035.2 1170.1,1030.9 1170.6,1026.5 1171.1,1022.2 1171.6,1017.9 1172.1,1013.5 1172.7,1009.2 1173.2,1004.8 1173.8,1000.5 1174.3,996.2 1174.9,991.9 1175.5,987.6 1176.1,983.4 1176.7,979.2 1177.3,975.0 1178.0,970.8 1178.6,966.7 1179.3,962.6 1180.0,958.6 1180.6,954.6 1181.3,950.6 1182.0,946.7 1182.8,942.9 1183.5,939.1 1184.2,935.4 1185.0,931.7 1185.8,928.1 1186.5,924.5 1187.3,921.0 1188.1,917.6 1189.0,914.2 1189.8,910.9 1190.6,907.7 1191.5,904.5 1192.4,901.4 1193.2,898.4 1194.1,895.4 1195.0,892.5 1195.9,889.7 1196.9,887.0 1197.8,884.3 1198.8,881.7 1199.7,879.2 1200.7,876.7 1201.7,874.3 1202.7,872.0 1203.7,869.7 1204.8,867.5 1205.8,865.4 1206.9,863.4 1207.9,861.4 1209.0,859.5 1210.1,857.6 1211.2,855.8 1212.4,854.1 1213.5,852.4 1214.6,850.8 1215.8,849.2 1217.0,847.7 1218.2,846.3 1219.4,844.9 1220.6,843.6 1221.8,842.3 1223.0,841.1 1224.3,839.9 1225.6,838.8 1226.8,837.7 1228.1,836.7 1229.4,835.7 1230.8,834.7 1232.1,833.8 1233.4,833.0 1234.8,832.2 1236.2,831.4 1237.6,830.6 1239.0,829.9 1240.4,829.2 1241.8,828.6 1243.2,828.0 1244.7,827.4 1246.2,826.8 1247.7,826.3 1249.1,825.8 1250.7,825.3 1252.2,824.9 1253.7,824.5 1255.3,824.1 1256.8,823.7 1258.4,823.3 1260.0,823.0 1260.0,1290.0 M1406.5,1290.0 1406.5,1191.0 1406.5,1190.1 1406.6,1188.8 1406.6,1188.0 1406.7,1187.0 1406.7,1185.8 1406.8,1184.4 1406.9,1182.9 1407.0,1181.3 1407.0,1179.4 1407.1,1177.4 1407.2,1175.3 1407.4,1173.0 1407.5,1170.5 1407.6,1167.9 1407.8,1165.1 1407.9,1162.2 1408.1,1159.1 1408.2,1155.9 1408.4,1152.6 1408.6,1149.1 1408.8,1145.5 1409.0,1141.8 1409.2,1138.0 1409.5,1134.0 1409.7,1130.0 1409.9,1125.9 1410.2,1121.6 1410.5,1117.3 1410.7,1112.9 1411.0,1108.5 1411.3,1104.0 1411.6,1099.4 1411.9,1094.8 1412.3,1090.1 1412.6,1085.4 1413.0,1080.6 1413.3,1075.9 1413.7,1071.1 1414.1,1066.2 1414.5,1061.4 1414.9,1056.6 1415.3,1051.7 1415.7,1046.9 1416.2,1042.0 1416.6,1037.2 1417.1,1032.4 1417.5,1027.6 1418.0,1022.9 1418.5,1018.1 1419.0,1013.4 1419.5,1008.7 1420.1,1004.1 1420.6,999.5 1421.1,994.9 1421.7,990.4 1422.3,986.0 1422.9,981.5 1423.5,977.2 1424.1,972.8 1424.7,968.6 1425.3,964.4 1426.0,960.2 1426.6,956.1 1427.3,952.1 1428.0,948.1 1428.7,944.2 1429.4,940.3 1430.1,936.6 1430.8,932.8 1431.5,929.2 1432.3,925.6 1433.0,922.1 1433.8,918.6 1434.6,915.2 1435.4,911.9 1436.2,908.6 1437.0,905.5 1437.9,902.3 1438.7,899.3 1439.6,896.3 1440.5,893.4 1441.3,890.6 1442.2,887.8 1443.2,885.1 1444.1,882.4 1445.0,879.9 1446.0,877.3 1446.9,874.9 1447.9,872.5 1448.9,870.2 1449.9,868.0 1450.9,865.8 1451.9,863.7 1452.9,861.6 1454.0,859.7 1455.1,857.7 1456.1,855.9 1457.2,854.1 1458.3,852.3 1459.4,850.6 1460.6,849.0 1461.7,847.4 1462.8,845.9 1464.0,844.5 1465.2,843.0 1466.4,841.7 1467.6,840.4 1468.8,839.1 1470.0,837.9 1471.3,836.7 1472.5,835.6 1473.8,834.6 1475.1,833.5 1476.4,832.5 1477.7,831.6 1479.0,830.7 1480.4,829.8 1481.7,829.0 1483.1,828.2 1484.4,827.5 1485.8,826.8 1487.2,826.1 1488.6,825.4 1490.1,824.8 1491.5,824.2 1493.0,823.6 1494.4,823.1 1495.9,822.6 1497.4,822.1 1498.9,821.7 1500.5,821.2 1502.0,820.8 1503.6,820.4 1505.1,820.0 1506.7,819.7 1506.7,1290.0 M1653.5,1290.0 1653.5,1170.3 1653.6,1169.0 1653.6,1167.6 1653.7,1166.7 1653.7,1165.7 1653.8,1164.5 1653.9,1163.2 1654.0,1161.8 1654.0,1160.1 1654.1,1158.4 1654.2,1156.5 1654.4,1154.4 1654.5,1152.3 1654.6,1149.9 1654.7,1147.5 1654.9,1144.9 1655.1,1142.1 1655.2,1139.2 1655.4,1136.2 1655.6,1133.1 1655.8,1129.9 1656.0,1126.5 1656.2,1123.0 1656.4,1119.4 1656.7,1115.8 1656.9,1112.0 1657.2,1108.1 1657.4,1104.1 1657.7,1100.1 1658.0,1095.9 1658.3,1091.7 1658.6,1087.4 1658.9,1083.1 1659.2,1078.7 1659.6,1074.2 1659.9,1069.7 1660.3,1065.2 1660.7,1060.6 1661.0,1056.0 1661.4,1051.3 1661.8,1046.7 1662.2,1042.0 1662.7,1037.3 1663.1,1032.6 1663.5,1027.9 1664.0,1023.3 1664.5,1018.6 1664.9,1013.9 1665.4,1009.3 1665.9,1004.6 1666.4,1000.0 1667.0,995.4 1667.5,990.9 1668.0,986.4 1668.6,981.9 1669.2,977.5 1669.8,973.1 1670.3,968.7 1670.9,964.4 1671.6,960.2 1672.2,956.0 1672.8,951.9 1673.5,947.8 1674.1,943.8 1674.8,939.8 1675.5,935.9 1676.2,932.1 1676.9,928.3 1677.6,924.6 1678.4,920.9 1679.1,917.3 1679.9,913.8 1680.6,910.4 1681.4,907.0 1682.2,903.7 1683.0,900.4 1683.8,897.3 1684.7,894.1 1685.5,891.1 1686.4,888.1 1687.2,885.2 1688.1,882.4 1689.0,879.6 1689.9,876.9 1690.8,874.2 1691.7,871.6 1692.7,869.1 1693.6,866.7 1694.6,864.3 1695.6,862.0 1696.6,859.7 1697.6,857.5 1698.6,855.3 1699.6,853.3 1700.7,851.2 1701.7,849.3 1702.8,847.3 1703.9,845.5 1705.0,843.7 1706.1,841.9 1707.2,840.2 1708.3,838.6 1709.5,837.0 1710.6,835.5 1711.8,834.0 1713.0,832.5 1714.2,831.1 1715.4,829.8 1716.6,828.5 1717.8,827.2 1719.1,826.0 1720.3,824.9 1721.6,823.7 1722.9,822.6 1724.2,821.6 1725.5,820.6 1726.8,819.6 1728.2,818.7 1729.5,817.8 1730.9,816.9 1732.3,816.1 1733.7,815.3 1735.1,814.5 1736.5,813.8 1737.9,813.1 1739.4,812.4 1740.8,811.8 1742.3,811.1 1743.8,810.5 1745.3,810.0 1746.8,809.4 1748.3,808.9 1749.9,808.4 1751.4,807.9 1753.0,807.5 1753.0,1290.0" stroke="#f500f5" stroke-width="5.2"/></g>
<line x1="269.60" y1="41.80" x2="269.60" y2="1292.60" stroke="#000" stroke-width="5" />
<line x1="267.10" y1="43.00" x2="1818.80" y2="43.00" stroke="#000" stroke-width="2.5" />
<line x1="1816.50" y1="41.80" x2="1816.50" y2="1292.60" stroke="#000" stroke-width="4.6" />
<line x1="267.10" y1="1290.30" x2="1818.80" y2="1290.30" stroke="#000" stroke-width="4.8" />
<line x1="245.00" y1="1286.00" x2="267.50" y2="1286.00" stroke="#000" stroke-width="3.4" />
<line x1="256.00" y1="1142.75" x2="267.50" y2="1142.75" stroke="#000" stroke-width="3.4" />
<line x1="245.00" y1="999.50" x2="267.50" y2="999.50" stroke="#000" stroke-width="3.4" />
<line x1="256.00" y1="856.25" x2="267.50" y2="856.25" stroke="#000" stroke-width="3.4" />
<line x1="245.00" y1="713.00" x2="267.50" y2="713.00" stroke="#000" stroke-width="3.4" />
<line x1="256.00" y1="569.75" x2="267.50" y2="569.75" stroke="#000" stroke-width="3.4" />
<line x1="245.00" y1="426.50" x2="267.50" y2="426.50" stroke="#000" stroke-width="3.4" />
<line x1="256.00" y1="283.25" x2="267.50" y2="283.25" stroke="#000" stroke-width="3.4" />
<line x1="245.00" y1="140.00" x2="267.50" y2="140.00" stroke="#000" stroke-width="3.4" />
<line x1="269.50" y1="1290.00" x2="269.50" y2="1317.00" stroke="#000" stroke-width="5" />
<line x1="392.40" y1="1290.00" x2="392.40" y2="1303.70" stroke="#000" stroke-width="5" />
<line x1="515.30" y1="1290.00" x2="515.30" y2="1317.00" stroke="#000" stroke-width="5" />
<line x1="638.20" y1="1290.00" x2="638.20" y2="1303.70" stroke="#000" stroke-width="5" />
<line x1="761.10" y1="1290.00" x2="761.10" y2="1317.00" stroke="#000" stroke-width="5" />
<line x1="884.00" y1="1290.00" x2="884.00" y2="1303.70" stroke="#000" stroke-width="5" />
<line x1="1006.90" y1="1290.00" x2="1006.90" y2="1317.00" stroke="#000" stroke-width="5" />
<line x1="1129.80" y1="1290.00" x2="1129.80" y2="1303.70" stroke="#000" stroke-width="5" />
<line x1="1252.70" y1="1290.00" x2="1252.70" y2="1317.00" stroke="#000" stroke-width="5" />
<line x1="1375.60" y1="1290.00" x2="1375.60" y2="1303.70" stroke="#000" stroke-width="5" />
<line x1="1498.50" y1="1290.00" x2="1498.50" y2="1317.00" stroke="#000" stroke-width="5" />
<line x1="1621.40" y1="1290.00" x2="1621.40" y2="1303.70" stroke="#000" stroke-width="5" />
<line x1="1744.30" y1="1290.00" x2="1744.30" y2="1317.00" stroke="#000" stroke-width="5" />
<line x1="1792.30" y1="205.60" x2="1815.00" y2="205.60" stroke="#000" stroke-width="3.2" />
<text x="226.50" y="1305.20" font-size="64" font-weight="bold" font-style="normal" text-anchor="end" fill="#000" >0.0</text>
<text x="226.50" y="1018.70" font-size="64" font-weight="bold" font-style="normal" text-anchor="end" fill="#000" >0.6</text>
<text x="226.50" y="732.20" font-size="64" font-weight="bold" font-style="normal" text-anchor="end" fill="#000" >1.2</text>
<text x="226.50" y="445.70" font-size="64" font-weight="bold" font-style="normal" text-anchor="end" fill="#000" >1.8</text>
<text x="226.50" y="159.20" font-size="64" font-weight="bold" font-style="normal" text-anchor="end" fill="#000" >2.4</text>
<text x="269.50" y="1382.50" font-size="64" font-weight="bold" font-style="normal" text-anchor="middle" fill="#000" >0</text>
<text x="515.30" y="1382.50" font-size="64" font-weight="bold" font-style="normal" text-anchor="middle" fill="#000" >10</text>
<text x="761.10" y="1382.50" font-size="64" font-weight="bold" font-style="normal" text-anchor="middle" fill="#000" >20</text>
<text x="1006.90" y="1382.50" font-size="64" font-weight="bold" font-style="normal" text-anchor="middle" fill="#000" >30</text>
<text x="1252.70" y="1382.50" font-size="64" font-weight="bold" font-style="normal" text-anchor="middle" fill="#000" >40</text>
<text x="1498.50" y="1382.50" font-size="64" font-weight="bold" font-style="normal" text-anchor="middle" fill="#000" >50</text>
<text x="1744.30" y="1382.50" font-size="64" font-weight="bold" font-style="normal" text-anchor="middle" fill="#000" >60</text>
<text x="1844.50" y="224.40" font-size="64" font-weight="bold" font-style="normal" text-anchor="start" fill="#000" >20</text>
<text x="1844.50" y="1307.50" font-size="64" font-weight="bold" font-style="normal" text-anchor="start" fill="#000" >0</text>
<text x="1041.85" y="1505.40" font-size="77.7" font-weight="bold" font-style="normal" text-anchor="middle" fill="#000" >Time (min)</text>
<text transform="translate(87.40,822.00) rotate(-90)" x="0.87" y="0" font-size="78" font-weight="bold">V</text>
<text transform="translate(114.40,822.00) rotate(-90)" x="55.40" y="0" font-size="45.6" font-weight="bold">sense</text>
<text transform="translate(87.40,822.00) rotate(-90)" x="206.82" y="0" font-size="78" font-weight="bold">(</text>
<text transform="translate(87.40,822.00) rotate(-90)" x="231.97" y="0" font-size="78" font-weight="bold">V</text>
<text transform="translate(87.40,822.00) rotate(-90)" x="287.02" y="0" font-size="78" font-weight="bold">)</text>
<text transform="translate(2007.10,810.00) rotate(-90)" x="-2.32" y="0" font-size="78" font-weight="bold">I</text>
<text transform="translate(2035.00,810.00) rotate(-90)" x="21.27" y="0" font-size="46" font-weight="bold">bias</text>
<text transform="translate(2007.10,810.00) rotate(-90)" x="132.96" y="0" font-size="78" font-weight="normal">(</text>
<text transform="translate(2007.10,810.00) rotate(-90)" x="161.90" y="0" font-size="76" font-weight="normal">µ</text>
<text transform="translate(2007.10,810.00) rotate(-90)" x="205.16" y="0" font-size="78" font-weight="bold">A</text>
<text transform="translate(2007.10,810.00) rotate(-90)" x="263.84" y="0" font-size="78" font-weight="normal">)</text>
<line x1="289.50" y1="93.40" x2="439.00" y2="93.40" stroke="#000000" stroke-width="5.2" />
<text x="452.50" y="115.00" font-size="65" font-weight="bold" font-style="normal" text-anchor="start" fill="#000" >260 K</text>
<line x1="641.00" y1="93.40" x2="790.50" y2="93.40" stroke="#ff0000" stroke-width="5.2" />
<text x="807.00" y="115.00" font-size="65" font-weight="bold" font-style="normal" text-anchor="start" fill="#000" >270 K</text>
<line x1="995.60" y1="93.40" x2="1145.10" y2="93.40" stroke="#00ff00" stroke-width="5.2" />
<text x="1159.50" y="115.00" font-size="65" font-weight="bold" font-style="normal" text-anchor="start" fill="#000" >280 K</text>
<line x1="289.50" y1="175.00" x2="439.00" y2="175.00" stroke="#0000ff" stroke-width="5.2" />
<text x="452.50" y="196.30" font-size="65" font-weight="bold" font-style="normal" text-anchor="start" fill="#000" >290 K</text>
<line x1="641.00" y1="175.00" x2="790.50" y2="175.00" stroke="#00ffff" stroke-width="5.2" />
<text x="807.00" y="196.30" font-size="65" font-weight="bold" font-style="normal" text-anchor="start" fill="#000" >300 K</text>
<line x1="995.60" y1="175.00" x2="1145.10" y2="175.00" stroke="#f500f5" stroke-width="5.2" />
<text x="1159.50" y="196.30" font-size="65" font-weight="bold" font-style="normal" text-anchor="start" fill="#000" >310 K</text>
<text x="1705.60" y="136.80" font-size="64" font-weight="bold" font-style="normal" text-anchor="middle" fill="#000" >(a)</text>
<text transform="translate(362.5,1083.0) rotate(-90)" font-size="64.7" font-style="italic" text-anchor="middle">Idle state</text>
<text transform="translate(611.0,1078.3) rotate(-90)" font-size="64.7" font-style="italic" text-anchor="middle">Idle state</text>
<text transform="translate(861.0,1078.3) rotate(-90)" font-size="64.7" font-style="italic" text-anchor="middle">Idle state</text>
<text transform="translate(1097.0,1072.5) rotate(-90)" font-size="64.7" font-style="italic" text-anchor="middle">Idle state</text>
<text transform="translate(1347.0,1070.0) rotate(-90)" font-size="64.7" font-style="italic" text-anchor="middle">Idle state</text>
<text transform="translate(1593.5,1072.5) rotate(-90)" font-size="64.7" font-style="italic" text-anchor="middle">Idle state</text>
<ellipse cx="361.6" cy="1976.2" rx="87" ry="239" fill="#b4fffa" stroke="#00ffff" stroke-width="4.7"/>
<line x1="267.00" y1="1630.00" x2="267.00" y2="2880.00" stroke="#000" stroke-width="4.6" />
<line x1="264.70" y1="1632.50" x2="1818.60" y2="1632.50" stroke="#000" stroke-width="5" />
<line x1="1816.80" y1="1630.00" x2="1816.80" y2="2880.00" stroke="#000" stroke-width="3.6" />
<line x1="242.50" y1="2877.60" x2="1818.60" y2="2877.60" stroke="#000" stroke-width="5" />
<line x1="254.00" y1="2734.74" x2="265.00" y2="2734.74" stroke="#000" stroke-width="3.5" />
<line x1="242.00" y1="2590.98" x2="265.00" y2="2590.98" stroke="#000" stroke-width="3.5" />
<line x1="254.00" y1="2447.22" x2="265.00" y2="2447.22" stroke="#000" stroke-width="3.5" />
<line x1="242.00" y1="2303.46" x2="265.00" y2="2303.46" stroke="#000" stroke-width="3.5" />
<line x1="254.00" y1="2159.70" x2="265.00" y2="2159.70" stroke="#000" stroke-width="3.5" />
<line x1="242.00" y1="2015.94" x2="265.00" y2="2015.94" stroke="#000" stroke-width="3.5" />
<line x1="254.00" y1="1872.18" x2="265.00" y2="1872.18" stroke="#000" stroke-width="3.5" />
<line x1="242.00" y1="1728.42" x2="265.00" y2="1728.42" stroke="#000" stroke-width="3.5" />
<line x1="325.00" y1="2877.00" x2="325.00" y2="2905.00" stroke="#000" stroke-width="5" />
<line x1="468.40" y1="2877.00" x2="468.40" y2="2891.00" stroke="#000" stroke-width="5" />
<line x1="611.80" y1="2877.00" x2="611.80" y2="2905.00" stroke="#000" stroke-width="5" />
<line x1="755.20" y1="2877.00" x2="755.20" y2="2891.00" stroke="#000" stroke-width="5" />
<line x1="898.60" y1="2877.00" x2="898.60" y2="2905.00" stroke="#000" stroke-width="5" />
<line x1="1042.00" y1="2877.00" x2="1042.00" y2="2891.00" stroke="#000" stroke-width="5" />
<line x1="1185.40" y1="2877.00" x2="1185.40" y2="2905.00" stroke="#000" stroke-width="5" />
<line x1="1328.80" y1="2877.00" x2="1328.80" y2="2891.00" stroke="#000" stroke-width="5" />
<line x1="1472.20" y1="2877.00" x2="1472.20" y2="2905.00" stroke="#000" stroke-width="5" />
<line x1="1615.60" y1="2877.00" x2="1615.60" y2="2891.00" stroke="#000" stroke-width="5" />
<line x1="1759.00" y1="2877.00" x2="1759.00" y2="2905.00" stroke="#000" stroke-width="5" />
<text x="225.30" y="2896.30" font-size="64" font-weight="bold" font-style="normal" text-anchor="end" fill="#000" >0.0</text>
<text x="225.30" y="2608.78" font-size="64" font-weight="bold" font-style="normal" text-anchor="end" fill="#000" >0.6</text>
<text x="225.30" y="2321.26" font-size="64" font-weight="bold" font-style="normal" text-anchor="end" fill="#000" >1.2</text>
<text x="225.30" y="2033.74" font-size="64" font-weight="bold" font-style="normal" text-anchor="end" fill="#000" >1.8</text>
<text x="225.30" y="1746.22" font-size="64" font-weight="bold" font-style="normal" text-anchor="end" fill="#000" >2.4</text>
<text x="325.00" y="2971.00" font-size="64" font-weight="bold" font-style="normal" text-anchor="middle" fill="#000" >260</text>
<text x="611.80" y="2971.00" font-size="64" font-weight="bold" font-style="normal" text-anchor="middle" fill="#000" >270</text>
<text x="898.60" y="2971.00" font-size="64" font-weight="bold" font-style="normal" text-anchor="middle" fill="#000" >280</text>
<text x="1185.40" y="2971.00" font-size="64" font-weight="bold" font-style="normal" text-anchor="middle" fill="#000" >290</text>
<text x="1472.20" y="2971.00" font-size="64" font-weight="bold" font-style="normal" text-anchor="middle" fill="#000" >300</text>
<text x="1759.00" y="2971.00" font-size="64" font-weight="bold" font-style="normal" text-anchor="middle" fill="#000" >310</text>
<text x="1040.85" y="3093.90" font-size="78.8" font-weight="bold" font-style="normal" text-anchor="middle" fill="#000" >Temperature (K)</text>
<text transform="translate(86.70,2376.00) rotate(-90)" x="1.37" y="0" font-size="78" font-weight="bold">V</text>
<text transform="translate(114.00,2376.00) rotate(-90)" x="52.43" y="0" font-size="44.6" font-weight="bold">sat</text>
<text transform="translate(86.70,2376.00) rotate(-90)" x="139.82" y="0" font-size="78" font-weight="bold">(</text>
<text transform="translate(86.70,2376.00) rotate(-90)" x="165.17" y="0" font-size="78" font-weight="bold">V</text>
<text transform="translate(86.70,2376.00) rotate(-90)" x="219.22" y="0" font-size="78" font-weight="bold">)</text>
<circle cx="325.3" cy="1928.6" r="21.7" fill="#fff" stroke="#000" stroke-width="2.4"/>
<line x1="325.30" y1="1835.80" x2="325.30" y2="1906.90" stroke="#000" stroke-width="2.4" />
<line x1="325.30" y1="2020.00" x2="325.30" y2="1950.30" stroke="#000" stroke-width="2.4" />
<line x1="311.80" y1="1835.80" x2="338.80" y2="1835.80" stroke="#000" stroke-width="2.8" />
<line x1="311.80" y1="2020.00" x2="338.80" y2="2020.00" stroke="#000" stroke-width="2.8" />
<circle cx="612.0" cy="2094.6" r="21.7" fill="#fff" stroke="#000" stroke-width="2.4"/>
<line x1="612.00" y1="2082.50" x2="612.00" y2="2072.90" stroke="#000" stroke-width="2.4" />
<line x1="612.00" y1="2108.30" x2="612.00" y2="2116.30" stroke="#000" stroke-width="2.4" />
<line x1="600.00" y1="2082.50" x2="624.00" y2="2082.50" stroke="#000" stroke-width="2.8" />
<line x1="600.00" y1="2108.30" x2="624.00" y2="2108.30" stroke="#000" stroke-width="2.8" />
<circle cx="898.4" cy="2203.2" r="21.7" fill="#fff" stroke="#000" stroke-width="2.4"/>
<line x1="898.40" y1="2190.00" x2="898.40" y2="2181.50" stroke="#000" stroke-width="2.4" />
<line x1="898.40" y1="2218.00" x2="898.40" y2="2224.90" stroke="#000" stroke-width="2.4" />
<line x1="886.40" y1="2190.00" x2="910.40" y2="2190.00" stroke="#000" stroke-width="2.8" />
<line x1="886.40" y1="2218.00" x2="910.40" y2="2218.00" stroke="#000" stroke-width="2.8" />
<circle cx="1214.3" cy="2346.5" r="21.7" fill="#fff" stroke="#000" stroke-width="2.4"/>
<line x1="1214.30" y1="2323.50" x2="1214.30" y2="2324.80" stroke="#000" stroke-width="2.4" />
<line x1="1214.30" y1="2369.50" x2="1214.30" y2="2368.20" stroke="#000" stroke-width="2.4" />
<line x1="1207.80" y1="2323.50" x2="1220.80" y2="2323.50" stroke="#000" stroke-width="2.8" />
<line x1="1207.80" y1="2369.50" x2="1220.80" y2="2369.50" stroke="#000" stroke-width="2.8" />
<circle cx="1472.4" cy="2386.2" r="21.7" fill="#fff" stroke="#000" stroke-width="2.4"/>
<line x1="1472.40" y1="2377.00" x2="1472.40" y2="2364.50" stroke="#000" stroke-width="2.4" />
<line x1="1472.40" y1="2397.00" x2="1472.40" y2="2407.90" stroke="#000" stroke-width="2.4" />
<line x1="1459.40" y1="2377.00" x2="1485.40" y2="2377.00" stroke="#000" stroke-width="2.8" />
<line x1="1459.40" y1="2397.00" x2="1485.40" y2="2397.00" stroke="#000" stroke-width="2.8" />
<circle cx="1758.6" cy="2420.1" r="21.7" fill="#fff" stroke="#000" stroke-width="2.4"/>
<line x1="1758.60" y1="2399.00" x2="1758.60" y2="2398.40" stroke="#000" stroke-width="2.4" />
<line x1="1758.60" y1="2439.40" x2="1758.60" y2="2441.80" stroke="#000" stroke-width="2.4" />
<line x1="1746.60" y1="2399.00" x2="1770.60" y2="2399.00" stroke="#000" stroke-width="2.8" />
<line x1="1746.60" y1="2439.40" x2="1770.60" y2="2439.40" stroke="#000" stroke-width="2.8" />
<line x1="1214.40" y1="2322.40" x2="1214.40" y2="2370.70" stroke="#000" stroke-width="2.6" />
<line x1="1202.00" y1="2346.60" x2="1226.60" y2="2346.60" stroke="#000" stroke-width="4" />
<line x1="327.80" y1="2058.20" x2="1765.50" y2="2513.00" stroke="#000" stroke-width="5.2" />
<circle cx="584.6" cy="1702.3" r="21.7" fill="none" stroke="#000" stroke-width="2.4"/>
<text x="674.00" y="1722.70" font-size="65" font-weight="bold" font-style="normal" text-anchor="start" fill="#000" >Average values</text>
<line x1="1204.70" y1="1706.20" x2="1332.50" y2="1706.20" stroke="#000" stroke-width="5" />
<text x="1352.00" y="1724.80" font-size="65" font-weight="bold" font-style="normal" text-anchor="start" fill="#000" >Linear fit</text>
<text x="1053" y="2215.6" font-size="65" font-weight="bold">m<tspan font-size="39" font-weight="bold" dy="21">V</tspan><tspan dy="-21"> = -19.1 mV/K</tspan></text>
<text x="1720.40" y="2812.00" font-size="64" font-weight="bold" font-style="normal" text-anchor="middle" fill="#000" >(b)</text>
<line x1="366.50" y1="2224.20" x2="366.50" y2="2450.00" stroke="#0000ff" stroke-width="8.2" />
<polygon points="356.9,2442 376.1,2442 370.5,2470 370.5,2480.2 362.5,2480.2 362.5,2470" fill="#0000ff"/>
<text x="292.10" y="2584.10" font-size="65.1" font-weight="bold" font-style="normal" text-anchor="start" fill="#0000ff" >Water freezing temperature</text>
</svg></body></html>
